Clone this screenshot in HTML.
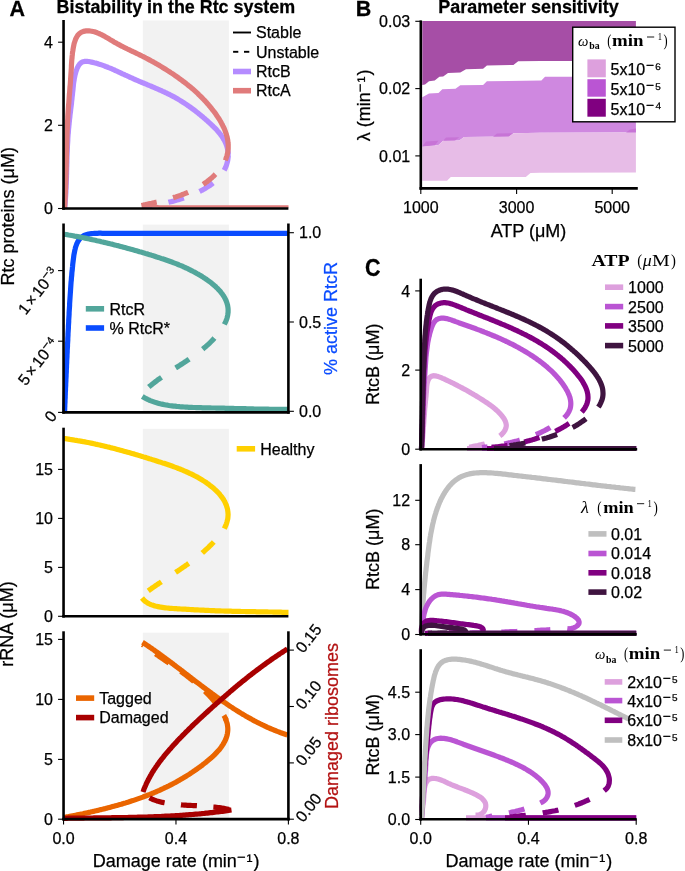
<!DOCTYPE html><html><head><meta charset="utf-8"><style>html,body{margin:0;padding:0;background:#fff;}svg{display:block;will-change:transform;}</style></head><body>
<svg width="685" height="871" viewBox="0 0 685 871">
<rect width="685" height="871" fill="#fff"/>
<text x="0" y="0" font-size="21.5" font-weight="bold" text-anchor="start" fill="#000" stroke="#000" stroke-width="0.25" font-family="'Liberation Sans', sans-serif" transform="translate(9.5,15.8) scale(1,1.04)">A</text>
<text x="0" y="0" font-size="17.9" font-weight="bold" text-anchor="middle" fill="#000" stroke="#000" stroke-width="0.25" font-family="'Liberation Sans', sans-serif" transform="translate(175.9,13.4) scale(1,1.04)">Bistability in the Rtc system</text>
<rect x="142.8" y="20.5" width="86.1" height="188" fill="#f2f2f2" />
<path d="M228.3,155.0 228.2,156.7 228.0,158.3 227.8,159.9 227.5,161.4 227.1,162.9 226.7,164.4 226.2,165.8 225.7,167.2 225.1,168.5 224.4,169.9 223.7,171.1 223.0,172.4 222.2,173.6 221.3,174.8 220.4,175.9 219.5,177.0 218.5,178.1 217.5,179.2 216.4,180.2 215.3,181.2 214.2,182.2 213.0,183.1 211.9,184.0 210.6,184.9 209.4,185.8 208.1,186.6 206.8,187.4 205.5,188.2 204.2,189.0 202.8,189.8 201.4,190.5 200.1,191.2 198.7,191.9 197.3,192.5 195.8,193.2 194.4,193.8 193.0,194.4 191.6,195.0 190.1,195.6 188.7,196.2 187.2,196.7 185.7,197.3 184.3,197.8 182.8,198.3 181.3,198.8 179.9,199.2 178.4,199.7 176.9,200.1 175.4,200.6 173.9,201.0 172.4,201.4 170.9,201.7 169.4,202.1 167.9,202.5 166.4,202.8 164.9,203.1 163.4,203.5 161.9,203.8 160.4,204.1 158.9,204.3 157.4,204.6 155.9,204.9 154.4,205.1 152.9,205.3 151.4,205.6 149.9,205.8 148.4,206.0 146.9,206.2 145.5,206.4 144.0,206.5 142.5,206.7" fill="none" stroke="#b58cff" stroke-width="5.2" stroke-linecap="butt" stroke-linejoin="round" stroke-dasharray="16 17" stroke-dashoffset="0"/>
<path d="M64.7,208.5 64.8,207.0 65.0,205.5 65.1,204.0 65.2,202.5 65.3,201.0 65.4,199.5 65.5,198.0 65.6,196.5 65.7,195.0 65.8,193.5 65.9,192.0 65.9,190.5 66.0,189.0 66.1,187.5 66.1,186.0 66.2,184.4 66.3,182.9 66.3,181.4 66.4,179.9 66.4,178.4 66.5,176.9 66.5,175.4 66.6,173.8 66.6,172.3 66.6,170.8 66.7,169.3 66.7,167.8 66.8,166.3 66.8,164.7 66.9,163.2 66.9,161.7 66.9,160.2 67.0,158.7 67.0,157.2 67.1,155.6 67.1,154.1 67.2,152.6 67.3,151.1 67.3,149.6 67.4,148.1 67.4,146.6 67.5,145.1 67.6,143.6 67.7,142.1 67.8,140.5 67.8,139.0 67.9,137.5 68.0,136.0 68.1,134.5 68.3,133.1 68.4,131.6 68.5,130.1 68.6,128.6 68.8,127.1 68.9,125.6 69.1,124.1 69.2,122.6 69.4,121.1 69.5,119.7 69.7,118.2 69.9,116.7 70.0,115.2 70.2,113.7 70.4,112.2 70.6,110.7 70.7,109.3 70.9,107.8 71.1,106.3 71.3,104.8 71.5,103.3 71.6,101.7 71.8,100.2 72.0,98.7 72.1,97.2 72.3,95.7 72.5,94.1 72.6,92.6 72.8,91.1 73.0,89.5 73.1,88.0 73.3,86.4 73.4,84.9 73.6,83.3 73.8,81.8 74.1,80.2 74.3,78.7 74.6,77.2 74.9,75.7 75.3,74.2 75.7,72.7 76.1,71.2 76.6,69.8 77.1,68.4 77.8,67.0 78.4,65.8 79.2,64.7 80.0,63.7 81.0,62.8 82.0,62.2 83.2,61.7 84.4,61.4 85.7,61.3 87.1,61.4 88.5,61.5 89.9,61.8 91.4,62.1 92.9,62.4 94.3,62.8 95.8,63.1 97.2,63.5 98.6,64.0 100.1,64.4 101.5,64.9 102.9,65.4 104.3,65.9 105.7,66.5 107.2,67.0 108.6,67.6 110.0,68.1 111.4,68.7 112.8,69.3 114.2,69.9 115.5,70.6 116.9,71.2 118.3,71.8 119.7,72.5 121.1,73.1 122.5,73.8 123.9,74.4 125.3,75.1 126.7,75.7 128.1,76.3 129.4,77.0 130.8,77.6 132.2,78.2 133.6,78.9 135.0,79.5 136.4,80.1 137.8,80.7 139.2,81.3 140.6,81.9 142.0,82.5 143.4,83.0 144.8,83.6 146.2,84.2 147.6,84.8 149.0,85.4 150.3,85.9 151.7,86.5 153.1,87.1 154.5,87.7 155.9,88.3 157.3,88.9 158.6,89.5 160.0,90.1 161.4,90.7 162.7,91.3 164.1,91.9 165.5,92.6 166.8,93.2 168.1,93.9 169.5,94.5 170.8,95.2 172.1,95.9 173.5,96.6 174.8,97.3 176.1,98.1 177.4,98.8 178.7,99.6 180.0,100.4 181.3,101.2 182.5,102.0 183.8,102.8 185.1,103.6 186.3,104.4 187.6,105.3 188.8,106.2 190.0,107.0 191.3,107.9 192.5,108.8 193.7,109.7 194.9,110.6 196.1,111.6 197.3,112.5 198.5,113.4 199.7,114.4 200.8,115.4 202.0,116.3 203.2,117.3 204.3,118.3 205.5,119.3 206.6,120.3 207.8,121.3 208.9,122.4 210.0,123.4 211.1,124.4 212.2,125.5 213.3,126.5 214.4,127.6 215.5,128.7 216.5,129.7 217.5,130.9 218.5,132.0 219.4,133.1 220.4,134.3 221.2,135.5 222.1,136.7 222.9,137.9 223.6,139.2 224.4,140.4 225.0,141.7 225.6,143.1 226.2,144.5 226.7,145.9 227.1,147.3 227.5,148.8 227.8,150.3 228.0,151.8 228.2,153.4 228.3,155.0" fill="none" stroke="#b58cff" stroke-width="5.2" stroke-linecap="butt" stroke-linejoin="round"/>
<path d="M225.3,160.4 224.6,161.8 223.8,163.2 223.0,164.5 222.1,165.9 221.2,167.1 220.3,168.4 219.4,169.6 218.5,170.8 217.5,172.0 216.5,173.1 215.4,174.2 214.4,175.3 213.3,176.4 212.2,177.4 211.0,178.4 209.9,179.4 208.7,180.3 207.5,181.3 206.3,182.2 205.1,183.0 203.8,183.9 202.6,184.7 201.3,185.5 200.0,186.3 198.6,187.1 197.3,187.8 196.0,188.6 194.6,189.3 193.2,190.0 191.8,190.6 190.4,191.3 189.0,191.9 187.6,192.5 186.1,193.1 184.7,193.7 183.2,194.3 181.8,194.8 180.3,195.4 178.8,195.9 177.3,196.4 175.8,196.9 174.3,197.3 172.8,197.8 171.3,198.3 169.8,198.7 168.3,199.1 166.8,199.6 165.3,200.0 163.8,200.4 162.3,200.8 160.7,201.1 159.2,201.5 157.7,201.9 156.2,202.2 154.7,202.6 153.2,202.9 151.7,203.3 150.2,203.6 148.7,203.9 147.2,204.2 145.8,204.6 144.3,204.9 142.9,205.2 141.4,205.5" fill="none" stroke="#e07b7b" stroke-width="5.2" stroke-linecap="butt" stroke-linejoin="round" stroke-dasharray="16 17" stroke-dashoffset="16"/>
<path d="M64.5,208.5 64.6,207.0 64.7,205.5 64.8,204.0 64.9,202.5 64.9,201.0 65.0,199.5 65.1,198.0 65.2,196.5 65.2,195.0 65.3,193.5 65.4,192.0 65.4,190.5 65.5,189.0 65.6,187.5 65.6,185.9 65.7,184.4 65.7,182.9 65.8,181.4 65.8,179.9 65.9,178.4 65.9,176.9 65.9,175.4 66.0,173.9 66.0,172.4 66.1,170.9 66.1,169.4 66.1,167.9 66.2,166.4 66.2,164.9 66.2,163.3 66.3,161.8 66.3,160.3 66.4,158.8 66.4,157.3 66.4,155.8 66.5,154.3 66.5,152.8 66.5,151.3 66.6,149.8 66.6,148.3 66.7,146.8 66.7,145.3 66.7,143.8 66.8,142.3 66.8,140.7 66.9,139.2 66.9,137.7 67.0,136.2 67.0,134.7 67.1,133.2 67.1,131.7 67.2,130.2 67.3,128.7 67.3,127.2 67.4,125.7 67.5,124.2 67.5,122.7 67.6,121.2 67.7,119.7 67.8,118.2 67.8,116.7 67.9,115.2 68.0,113.7 68.1,112.2 68.2,110.7 68.3,109.2 68.4,107.7 68.5,106.2 68.6,104.7 68.8,103.2 68.9,101.7 69.0,100.2 69.1,98.7 69.2,97.2 69.3,95.7 69.4,94.2 69.6,92.7 69.7,91.2 69.8,89.7 69.9,88.2 70.0,86.7 70.2,85.2 70.3,83.7 70.4,82.2 70.5,80.7 70.6,79.2 70.7,77.7 70.8,76.2 70.9,74.7 71.0,73.2 71.1,71.7 71.2,70.1 71.3,68.6 71.4,67.1 71.4,65.6 71.5,64.1 71.6,62.6 71.7,61.1 71.8,59.6 72.0,58.1 72.1,56.5 72.3,55.0 72.4,53.5 72.6,51.9 72.9,50.4 73.1,48.9 73.4,47.3 73.7,45.8 74.0,44.2 74.4,42.7 74.9,41.2 75.4,39.8 75.9,38.5 76.6,37.2 77.3,36.0 78.1,34.9 79.0,34.0 80.0,33.1 81.1,32.4 82.3,31.9 83.5,31.4 84.8,31.1 86.1,30.9 87.5,30.8 88.8,30.8 90.2,31.0 91.6,31.2 93.0,31.5 94.4,31.8 95.8,32.3 97.2,32.8 98.6,33.4 100.0,34.0 101.4,34.7 102.8,35.4 104.2,36.1 105.6,36.9 107.0,37.7 108.4,38.5 109.8,39.4 111.2,40.2 112.6,41.0 113.9,41.9 115.3,42.7 116.7,43.4 118.0,44.2 119.4,44.9 120.7,45.6 122.1,46.3 123.4,47.0 124.7,47.7 126.1,48.3 127.4,49.0 128.7,49.6 130.0,50.2 131.3,50.9 132.7,51.5 134.0,52.1 135.3,52.7 136.6,53.4 137.9,54.0 139.2,54.6 140.6,55.3 141.9,56.0 143.2,56.6 144.5,57.3 145.8,58.0 147.2,58.7 148.5,59.4 149.8,60.1 151.1,60.8 152.5,61.5 153.8,62.3 155.1,63.0 156.4,63.8 157.7,64.5 159.1,65.3 160.4,66.1 161.7,66.9 163.0,67.7 164.3,68.5 165.6,69.3 166.9,70.1 168.1,70.9 169.4,71.7 170.7,72.6 172.0,73.4 173.2,74.2 174.5,75.1 175.7,76.0 177.0,76.8 178.2,77.7 179.4,78.6 180.7,79.5 181.9,80.4 183.1,81.3 184.3,82.2 185.5,83.1 186.6,84.0 187.8,84.9 189.0,85.9 190.1,86.8 191.3,87.8 192.4,88.7 193.5,89.7 194.6,90.7 195.7,91.7 196.8,92.7 197.9,93.7 199.0,94.8 200.1,95.8 201.1,96.8 202.2,97.9 203.2,99.0 204.3,100.1 205.3,101.1 206.3,102.3 207.3,103.4 208.3,104.5 209.2,105.7 210.2,106.8 211.2,108.0 212.1,109.2 213.0,110.4 214.0,111.6 214.9,112.8 215.8,114.1 216.7,115.4 217.5,116.6 218.4,117.9 219.2,119.2 220.0,120.5 220.8,121.8 221.5,123.2 222.2,124.5 222.9,125.9 223.6,127.2 224.2,128.6 224.8,130.0 225.3,131.4 225.8,132.8 226.3,134.2 226.7,135.6 227.1,137.0 227.4,138.5 227.7,139.9 227.9,141.3 228.0,142.8 228.2,144.2 228.2,145.7 228.2,147.2 228.2,148.6 228.0,150.1 227.9,151.6 227.6,153.0 227.3,154.5 226.9,156.0 226.4,157.4 225.9,158.9 225.3,160.4" fill="none" stroke="#e07b7b" stroke-width="5.2" stroke-linecap="butt" stroke-linejoin="round"/>
<path d="M142.5,206.2 144.0,206.2 145.5,206.2 147.1,206.2 148.6,206.3 150.1,206.3 151.6,206.3 153.1,206.3 154.7,206.3 156.2,206.3 157.7,206.3 159.2,206.4 160.7,206.4 162.3,206.4 163.8,206.4 165.3,206.4 166.8,206.4 168.4,206.4 169.9,206.4 171.4,206.4 172.9,206.4 174.4,206.4 176.0,206.4 177.5,206.5 179.0,206.5 180.5,206.5 182.0,206.5 183.6,206.5 185.1,206.5 186.6,206.5 188.1,206.5 189.6,206.5 191.2,206.5 192.7,206.5 194.2,206.5 195.7,206.5 197.2,206.5 198.8,206.5 200.3,206.5 201.8,206.5 203.3,206.5 204.9,206.5 206.4,206.5 207.9,206.5 209.4,206.5 210.9,206.5 212.5,206.5 214.0,206.5 215.5,206.5 217.0,206.5 218.5,206.5 220.1,206.5 221.6,206.5 223.1,206.5 224.6,206.5 226.1,206.5 227.7,206.5 229.2,206.5 230.7,206.5 232.2,206.5 233.7,206.5 235.3,206.5 236.8,206.5 238.3,206.5 239.8,206.5 241.4,206.5 242.9,206.5 244.4,206.5 245.9,206.5 247.4,206.5 249.0,206.5 250.5,206.5 252.0,206.5 253.5,206.5 255.0,206.5 256.6,206.6 258.1,206.6 259.6,206.6 261.1,206.6 262.6,206.6 264.2,206.6 265.7,206.6 267.2,206.6 268.7,206.6 270.2,206.6 271.8,206.6 273.3,206.6 274.8,206.6 276.3,206.6 277.9,206.6 279.4,206.6 280.9,206.6 282.4,206.6 283.9,206.6 285.5,206.6 287.0,206.6 288.5,206.6" fill="none" stroke="#e07b7b" stroke-width="2.5" stroke-linecap="butt" stroke-linejoin="round"/>
<line x1="63.55" y1="20" x2="63.55" y2="209.8" stroke="#000" stroke-width="2.6" stroke-linecap="butt"/>
<line x1="62.25" y1="208.5" x2="288.4" y2="208.5" stroke="#000" stroke-width="2.6" stroke-linecap="butt"/>
<line x1="58.05" y1="208.5" x2="63.55" y2="208.5" stroke="#000" stroke-width="1.1" stroke-linecap="butt"/>
<text x="52.95" y="214.26" font-size="16" text-anchor="end" fill="#000" stroke="#000" stroke-width="0.25" font-weight="normal" font-family="'Liberation Sans', sans-serif" >0</text>
<line x1="58.05" y1="125.3" x2="63.55" y2="125.3" stroke="#000" stroke-width="1.1" stroke-linecap="butt"/>
<text x="52.95" y="131.06" font-size="16" text-anchor="end" fill="#000" stroke="#000" stroke-width="0.25" font-weight="normal" font-family="'Liberation Sans', sans-serif" >2</text>
<line x1="58.05" y1="42.2" x2="63.55" y2="42.2" stroke="#000" stroke-width="1.1" stroke-linecap="butt"/>
<text x="52.95" y="47.96" font-size="16" text-anchor="end" fill="#000" stroke="#000" stroke-width="0.25" font-weight="normal" font-family="'Liberation Sans', sans-serif" >4</text>
<line x1="233" y1="32.5" x2="251" y2="32.5" stroke="#000" stroke-width="1.9" stroke-linecap="butt"/>
<line x1="233.1" y1="51.8" x2="238.3" y2="51.8" stroke="#000" stroke-width="1.9" stroke-linecap="butt"/>
<line x1="244" y1="51.8" x2="249.3" y2="51.8" stroke="#000" stroke-width="1.9" stroke-linecap="butt"/>
<line x1="233" y1="71.5" x2="251" y2="71.5" stroke="#b58cff" stroke-width="5.6" stroke-linecap="butt"/>
<line x1="233" y1="90.7" x2="251" y2="90.7" stroke="#e07b7b" stroke-width="5.6" stroke-linecap="butt"/>
<text x="256" y="38.3" font-size="16" text-anchor="start" fill="#000" stroke="#000" stroke-width="0.25" font-weight="normal" font-family="'Liberation Sans', sans-serif" >Stable</text>
<text x="256" y="57.6" font-size="16" text-anchor="start" fill="#000" stroke="#000" stroke-width="0.25" font-weight="normal" font-family="'Liberation Sans', sans-serif" >Unstable</text>
<text x="256" y="76.8" font-size="16" text-anchor="start" fill="#000" stroke="#000" stroke-width="0.25" font-weight="normal" font-family="'Liberation Sans', sans-serif" >RtcB</text>
<text x="256" y="95.8" font-size="16" text-anchor="start" fill="#000" stroke="#000" stroke-width="0.25" font-weight="normal" font-family="'Liberation Sans', sans-serif" >RtcA</text>
<text x="0" y="0" font-size="18" text-anchor="middle" fill="#000" stroke="#000" stroke-width="0.25" font-family="'Liberation Sans', sans-serif" transform="translate(13.5,216.3) rotate(-90)">Rtc proteins (μM)</text>
<rect x="142.8" y="224.6" width="86.1" height="187.8" fill="#f2f2f2" />
<path d="M64.6,411.0 64.7,409.5 64.7,408.0 64.8,406.5 64.8,405.0 64.9,403.5 65.0,402.0 65.0,400.5 65.1,399.0 65.2,397.5 65.2,396.0 65.3,394.5 65.3,393.0 65.4,391.5 65.5,390.0 65.5,388.5 65.6,387.0 65.7,385.5 65.7,384.0 65.8,382.5 65.9,380.9 65.9,379.4 66.0,377.9 66.1,376.4 66.1,374.9 66.2,373.4 66.3,371.8 66.3,370.3 66.4,368.8 66.5,367.3 66.5,365.8 66.6,364.2 66.7,362.7 66.7,361.2 66.8,359.7 66.9,358.2 67.0,356.6 67.0,355.1 67.1,353.6 67.2,352.1 67.2,350.6 67.3,349.0 67.4,347.5 67.5,346.0 67.5,344.5 67.6,343.0 67.7,341.5 67.8,339.9 67.8,338.4 67.9,336.9 68.0,335.4 68.0,333.9 68.1,332.4 68.2,330.9 68.3,329.4 68.4,327.9 68.4,326.4 68.5,324.9 68.6,323.4 68.7,321.9 68.7,320.4 68.8,318.9 68.9,317.4 69.0,315.9 69.1,314.4 69.1,312.9 69.2,311.4 69.3,309.9 69.4,308.4 69.5,307.0 69.6,305.5 69.6,304.0 69.7,302.5 69.8,301.0 69.9,299.6 70.0,298.1 70.1,296.6 70.2,295.1 70.3,293.6 70.4,292.1 70.5,290.7 70.6,289.2 70.7,287.7 70.8,286.2 70.9,284.7 71.0,283.2 71.1,281.7 71.3,280.1 71.4,278.6 71.5,277.1 71.7,275.6 71.8,274.0 71.9,272.5 72.1,270.9 72.3,269.4 72.4,267.8 72.6,266.2 72.7,264.6 72.9,263.0 73.1,261.4 73.3,259.8 73.5,258.2 73.7,256.6 73.9,255.0 74.2,253.4 74.5,251.9 74.8,250.3 75.2,248.8 75.5,247.4 76.0,246.0 76.5,244.6 77.0,243.3 77.6,242.1 78.3,240.9 79.0,239.8 79.8,238.8 80.6,237.9 81.5,237.1 82.6,236.4 83.7,235.7 84.8,235.2 86.0,234.8 87.3,234.4 88.7,234.1 90.1,233.8 91.5,233.6 93.0,233.5 94.5,233.4 96.0,233.3 97.5,233.3 99.1,233.2 100.7,233.2 102.2,233.3 103.8,233.3 105.4,233.3 106.9,233.3 108.5,233.3 110.1,233.3 111.6,233.3 113.2,233.3 114.7,233.3 116.3,233.3 117.8,233.3 119.4,233.3 120.9,233.3 122.5,233.3 124.0,233.3 125.5,233.3 127.1,233.3 128.6,233.3 130.1,233.4 131.6,233.4 133.2,233.4 134.7,233.4 136.2,233.4 137.7,233.4 139.2,233.4 140.7,233.4 142.3,233.4 143.8,233.4 145.3,233.4 146.8,233.4 148.3,233.4 149.8,233.4 151.3,233.4 152.8,233.4 154.3,233.4 155.8,233.4 157.3,233.4 158.8,233.4 160.3,233.4 161.8,233.4 163.3,233.4 164.8,233.4 166.3,233.4 167.8,233.4 169.3,233.4 170.8,233.4 172.3,233.4 173.8,233.4 175.3,233.4 176.8,233.4 178.3,233.4 179.8,233.4 181.3,233.4 182.7,233.4 184.2,233.4 185.7,233.4 187.2,233.4 188.7,233.4 190.2,233.4 191.7,233.4 193.2,233.4 194.7,233.4 196.3,233.4 197.8,233.4 199.3,233.4 200.8,233.4 202.3,233.4 203.8,233.4 205.3,233.4 206.8,233.4 208.3,233.4 209.8,233.4 211.3,233.4 212.9,233.4 214.4,233.4 215.9,233.4 217.4,233.4 218.9,233.4 220.4,233.4 222.0,233.4 223.5,233.4 225.0,233.4 226.5,233.4 228.0,233.4 229.6,233.4 231.1,233.4 232.6,233.4 234.1,233.4 235.6,233.4 237.1,233.4 238.7,233.4 240.2,233.4 241.7,233.4 243.2,233.4 244.7,233.4 246.3,233.4 247.8,233.4 249.3,233.4 250.8,233.4 252.3,233.4 253.9,233.4 255.4,233.4 256.9,233.4 258.4,233.4 259.9,233.4 261.4,233.4 262.9,233.4 264.4,233.4 266.0,233.4 267.5,233.4 269.0,233.4 270.5,233.4 272.0,233.4 273.5,233.4 275.0,233.4 276.5,233.4 278.0,233.4 279.5,233.4 281.0,233.4 282.5,233.4 284.0,233.4 285.5,233.4 287.0,233.4 288.5,233.4" fill="none" stroke="#0a4cff" stroke-width="5.2" stroke-linecap="butt" stroke-linejoin="round"/>
<path d="M64.2,234.2 65.7,234.5 67.2,234.7 68.7,235.0 70.1,235.2 71.6,235.5 73.1,235.8 74.6,236.1 76.1,236.3 77.6,236.6 79.1,236.9 80.6,237.2 82.0,237.5 83.5,237.8 85.0,238.1 86.5,238.4 88.0,238.7 89.5,239.0 90.9,239.4 92.4,239.7 93.9,240.0 95.4,240.3 96.9,240.7 98.4,241.0 99.8,241.3 101.3,241.7 102.8,242.0 104.3,242.4 105.8,242.7 107.2,243.1 108.7,243.4 110.2,243.8 111.7,244.1 113.1,244.5 114.6,244.9 116.1,245.3 117.6,245.6 119.0,246.0 120.5,246.4 122.0,246.8 123.4,247.2 124.9,247.6 126.4,248.0 127.8,248.4 129.3,248.8 130.8,249.2 132.2,249.6 133.7,250.0 135.1,250.4 136.6,250.8 138.0,251.2 139.5,251.7 141.0,252.1 142.4,252.5 143.9,252.9 145.3,253.4 146.8,253.8 148.2,254.3 149.6,254.7 151.1,255.1 152.5,255.6 154.0,256.0 155.4,256.5 156.8,257.0 158.3,257.4 159.7,257.9 161.1,258.4 162.5,258.8 164.0,259.3 165.4,259.8 166.8,260.3 168.2,260.8 169.6,261.3 171.1,261.8 172.5,262.3 173.9,262.9 175.3,263.4 176.7,263.9 178.1,264.5 179.5,265.1 180.9,265.6 182.3,266.2 183.6,266.8 185.0,267.5 186.4,268.1 187.8,268.7 189.1,269.4 190.5,270.1 191.9,270.8 193.2,271.5 194.6,272.2 195.9,272.9 197.3,273.7 198.6,274.4 200.0,275.2 201.3,276.0 202.6,276.9 203.9,277.7 205.3,278.6 206.6,279.5 207.8,280.4 209.1,281.3 210.4,282.3 211.6,283.2 212.8,284.2 214.0,285.2 215.2,286.2 216.3,287.3 217.4,288.3 218.4,289.4 219.4,290.5 220.4,291.6 221.3,292.8 222.2,293.9 223.0,295.1 223.8,296.3 224.5,297.5 225.2,298.8 225.8,300.0 226.3,301.3 226.8,302.6 227.2,303.9 227.6,305.3 227.8,306.6 228.0,308.0 228.1,309.4 228.1,310.8 228.1,312.2 227.9,313.7 227.7,315.2 227.4,316.7 227.0,318.2 226.5,319.7 225.8,321.3 225.1,322.8 224.3,324.4" fill="none" stroke="#52a69b" stroke-width="5.2" stroke-linecap="butt" stroke-linejoin="round"/>
<path d="M224.3,324.4 223.5,325.8 222.7,327.1 221.8,328.4 221.0,329.7 220.1,331.0 219.2,332.2 218.3,333.5 217.3,334.7 216.3,335.9 215.4,337.0 214.4,338.2 213.3,339.3 212.3,340.4 211.2,341.5 210.2,342.5 209.1,343.6 208.0,344.6 206.8,345.7 205.7,346.7 204.6,347.6 203.4,348.6 202.2,349.6 201.0,350.5 199.8,351.5 198.6,352.4 197.4,353.3 196.2,354.2 195.0,355.1 193.7,356.0 192.5,356.9 191.2,357.8 190.0,358.6 188.7,359.5 187.4,360.3 186.1,361.2 184.8,362.0 183.6,362.9 182.3,363.7 181.0,364.5 179.7,365.4 178.4,366.2 177.1,367.0 175.8,367.9 174.5,368.7 173.2,369.5 171.9,370.4 170.6,371.2 169.3,372.0 168.0,372.9 166.8,373.7 165.5,374.6 164.2,375.4 162.9,376.3 161.7,377.2 160.4,378.1 159.2,379.0 157.9,379.8 156.7,380.8 155.5,381.7 154.3,382.6 153.1,383.5 151.9,384.5 150.7,385.5 149.5,386.4 148.4,387.4 147.2,388.4 146.1,389.5 145.0,390.5" fill="none" stroke="#52a69b" stroke-width="5.2" stroke-linecap="butt" stroke-linejoin="round" stroke-dasharray="16 17" stroke-dashoffset="16"/>
<path d="M142.3,396.5 143.6,397.3 144.9,398.0 146.2,398.7 147.6,399.4 148.9,400.0 150.3,400.6 151.7,401.1 153.1,401.6 154.5,402.1 155.9,402.6 157.3,403.0 158.8,403.4 160.2,403.8 161.7,404.1 163.1,404.4 164.6,404.7 166.1,405.0 167.6,405.2 169.1,405.5 170.5,405.7 172.0,405.9 173.6,406.1 175.1,406.2 176.6,406.4 178.1,406.5 179.6,406.7 181.1,406.8 182.7,406.9 184.2,407.0 185.7,407.1 187.2,407.2 188.8,407.3 190.3,407.3 191.8,407.4 193.4,407.5 194.9,407.5 196.4,407.6 198.0,407.6 199.5,407.7 201.0,407.7 202.6,407.8 204.1,407.8 205.6,407.8 207.2,407.9 208.7,407.9 210.3,407.9 211.8,408.0 213.3,408.0 214.9,408.0 216.4,408.1 217.9,408.1 219.4,408.1 221.0,408.2 222.5,408.2 224.0,408.2 225.6,408.3 227.1,408.3 228.6,408.3 230.1,408.4 231.6,408.4 233.2,408.4 234.7,408.5 236.2,408.5 237.7,408.6 239.3,408.6 240.8,408.6 242.3,408.7 243.8,408.7 245.3,408.7 246.9,408.8 248.4,408.8 249.9,408.9 251.4,408.9 252.9,408.9 254.4,409.0 256.0,409.0 257.5,409.0 259.0,409.1 260.5,409.1 262.0,409.1 263.6,409.2 265.1,409.2 266.6,409.2 268.1,409.2 269.7,409.3 271.2,409.3 272.7,409.3 274.2,409.3 275.8,409.3 277.3,409.4 278.8,409.4 280.3,409.4 281.9,409.4 283.4,409.4 284.9,409.4 286.5,409.4 288.0,409.4" fill="none" stroke="#52a69b" stroke-width="5.2" stroke-linecap="butt" stroke-linejoin="round"/>
<line x1="63.55" y1="223.5" x2="63.55" y2="413.7" stroke="#000" stroke-width="2.6" stroke-linecap="butt"/>
<line x1="62.25" y1="412.4" x2="289.7" y2="412.4" stroke="#000" stroke-width="2.6" stroke-linecap="butt"/>
<line x1="288.4" y1="223.5" x2="288.4" y2="413.7" stroke="#000" stroke-width="2.6" stroke-linecap="butt"/>
<line x1="58.05" y1="412.4" x2="63.55" y2="412.4" stroke="#000" stroke-width="1.1" stroke-linecap="butt"/>
<text x="0" y="0" font-size="16" text-anchor="end" stroke="#000" stroke-width="0.25" font-family="'Liberation Sans', sans-serif" transform="translate(57.8,416.2) rotate(-52)">0</text>
<line x1="58.05" y1="341.2" x2="63.55" y2="341.2" stroke="#000" stroke-width="1.1" stroke-linecap="butt"/>
<text x="0" y="0" font-size="16" text-anchor="end" stroke="#000" stroke-width="0.25" font-family="'Liberation Sans', sans-serif" transform="translate(59,343.7) rotate(-52)">5<tspan dx="2.2">×</tspan><tspan dx="2.2">10</tspan><tspan dy="-5.2" font-size="13.5">−</tspan><tspan font-size="10.5">4</tspan></text>
<line x1="58.05" y1="270.6" x2="63.55" y2="270.6" stroke="#000" stroke-width="1.1" stroke-linecap="butt"/>
<text x="0" y="0" font-size="16" text-anchor="end" stroke="#000" stroke-width="0.25" font-family="'Liberation Sans', sans-serif" transform="translate(59,273.1) rotate(-52)">1<tspan dx="2.2">×</tspan><tspan dx="2.2">10</tspan><tspan dy="-5.2" font-size="13.5">−</tspan><tspan font-size="10.5">3</tspan></text>
<line x1="288.4" y1="411.3" x2="293.9" y2="411.3" stroke="#000" stroke-width="1.1" stroke-linecap="butt"/>
<text x="299" y="417.06" font-size="16" text-anchor="start" fill="#000" stroke="#000" stroke-width="0.25" font-weight="normal" font-family="'Liberation Sans', sans-serif" >0.0</text>
<line x1="288.4" y1="322" x2="293.9" y2="322" stroke="#000" stroke-width="1.1" stroke-linecap="butt"/>
<text x="299" y="327.76" font-size="16" text-anchor="start" fill="#000" stroke="#000" stroke-width="0.25" font-weight="normal" font-family="'Liberation Sans', sans-serif" >0.5</text>
<line x1="288.4" y1="232.7" x2="293.9" y2="232.7" stroke="#000" stroke-width="1.1" stroke-linecap="butt"/>
<text x="299" y="238.46" font-size="16" text-anchor="start" fill="#000" stroke="#000" stroke-width="0.25" font-weight="normal" font-family="'Liberation Sans', sans-serif" >1.0</text>
<text x="0" y="0" font-size="18" text-anchor="middle" fill="#0a4cff" stroke="#0a4cff" stroke-width="0.25" font-family="'Liberation Sans', sans-serif" transform="translate(336.5,318.5) rotate(-90)">% active RtcR</text>
<line x1="85.8" y1="308.8" x2="104.1" y2="308.8" stroke="#52a69b" stroke-width="5.6" stroke-linecap="butt"/>
<line x1="85.8" y1="328" x2="104.1" y2="328" stroke="#0a4cff" stroke-width="5.6" stroke-linecap="butt"/>
<text x="109.5" y="314.5" font-size="16" text-anchor="start" fill="#000" stroke="#000" stroke-width="0.25" font-weight="normal" font-family="'Liberation Sans', sans-serif" >RtcR</text>
<text x="109.5" y="333.5" font-size="16" text-anchor="start" fill="#000" stroke="#000" stroke-width="0.25" font-weight="normal" font-family="'Liberation Sans', sans-serif" >% RtcR*</text>
<rect x="142.8" y="428.8" width="86.1" height="187.5" fill="#f2f2f2" />
<path d="M63.8,438.5 65.3,438.7 66.8,438.9 68.4,439.1 69.9,439.4 71.4,439.6 72.9,439.8 74.4,440.1 75.9,440.3 77.4,440.6 78.9,440.8 80.4,441.1 81.9,441.4 83.4,441.7 84.9,441.9 86.4,442.2 87.9,442.5 89.4,442.8 90.9,443.1 92.4,443.4 93.9,443.7 95.3,444.1 96.8,444.4 98.3,444.7 99.8,445.0 101.2,445.4 102.7,445.7 104.2,446.1 105.7,446.4 107.1,446.8 108.6,447.1 110.1,447.5 111.5,447.9 113.0,448.2 114.4,448.6 115.9,449.0 117.4,449.4 118.8,449.8 120.3,450.2 121.7,450.6 123.2,451.0 124.7,451.4 126.1,451.8 127.6,452.2 129.0,452.6 130.5,453.0 131.9,453.4 133.4,453.8 134.8,454.3 136.3,454.7 137.7,455.1 139.2,455.6 140.7,456.0 142.1,456.4 143.6,456.9 145.0,457.3 146.5,457.8 147.9,458.2 149.4,458.7 150.8,459.1 152.3,459.6 153.7,460.1 155.2,460.5 156.7,461.0 158.1,461.5 159.6,461.9 161.0,462.4 162.5,462.9 164.0,463.3 165.4,463.8 166.9,464.3 168.3,464.8 169.8,465.3 171.2,465.8 172.7,466.3 174.1,466.9 175.6,467.4 177.0,467.9 178.4,468.5 179.9,469.0 181.3,469.6 182.7,470.2 184.1,470.8 185.5,471.4 186.9,472.0 188.3,472.6 189.7,473.3 191.1,473.9 192.5,474.6 193.8,475.3 195.2,476.0 196.5,476.7 197.9,477.4 199.2,478.2 200.5,479.0 201.8,479.8 203.1,480.6 204.4,481.4 205.7,482.2 206.9,483.1 208.2,484.0 209.4,484.9 210.6,485.9 211.8,486.8 213.0,487.8 214.2,488.8 215.3,489.8 216.4,490.9 217.4,491.9 218.5,493.0 219.5,494.1 220.4,495.3 221.3,496.4 222.2,497.6 223.0,498.8 223.8,500.0 224.5,501.2 225.1,502.5 225.7,503.8 226.3,505.1 226.7,506.4 227.1,507.7 227.5,509.1 227.7,510.5 227.9,511.9 228.0,513.3 228.1,514.7 228.0,516.2 227.9,517.7 227.7,519.2 227.3,520.7 226.9,522.2 226.4,523.8 225.8,525.4 225.1,527.0 224.3,528.6" fill="none" stroke="#ffd000" stroke-width="5.2" stroke-linecap="butt" stroke-linejoin="round"/>
<path d="M224.3,528.6 223.4,529.9 222.5,531.2 221.6,532.4 220.7,533.7 219.8,534.9 218.8,536.1 217.9,537.3 216.9,538.4 215.9,539.6 214.9,540.7 213.8,541.9 212.8,543.0 211.7,544.1 210.7,545.1 209.6,546.2 208.5,547.3 207.4,548.3 206.2,549.4 205.1,550.4 204.0,551.4 202.8,552.4 201.7,553.4 200.5,554.4 199.3,555.3 198.1,556.3 196.9,557.2 195.7,558.2 194.5,559.1 193.3,560.0 192.1,561.0 190.8,561.9 189.6,562.8 188.3,563.7 187.1,564.6 185.8,565.4 184.6,566.3 183.3,567.2 182.0,568.1 180.8,568.9 179.5,569.8 178.2,570.7 176.9,571.5 175.6,572.4 174.3,573.2 173.1,574.1 171.8,574.9 170.5,575.8 169.2,576.6 167.9,577.5 166.6,578.3 165.3,579.2 164.0,580.0 162.8,580.9 161.5,581.7 160.2,582.6 158.9,583.4 157.7,584.3 156.4,585.1 155.1,586.0 153.9,586.9 152.6,587.7 151.4,588.6 150.1,589.5 148.9,590.4 147.7,591.3 146.4,592.2 145.2,593.1 144.0,594.0" fill="none" stroke="#ffd000" stroke-width="5.2" stroke-linecap="butt" stroke-linejoin="round" stroke-dasharray="16 17" stroke-dashoffset="16"/>
<path d="M142.0,598.0 142.9,599.1 143.9,600.1 144.9,601.1 146.0,601.9 147.2,602.7 148.4,603.4 149.6,604.0 150.9,604.6 152.3,605.1 153.6,605.5 155.0,606.0 156.4,606.3 157.9,606.6 159.4,606.9 160.8,607.2 162.3,607.4 163.8,607.6 165.4,607.8 166.9,608.0 168.4,608.1 170.0,608.3 171.5,608.4 173.1,608.5 174.6,608.6 176.2,608.7 177.7,608.8 179.3,608.9 180.8,609.0 182.4,609.1 183.9,609.1 185.4,609.2 186.9,609.3 188.5,609.4 190.0,609.5 191.5,609.6 193.0,609.7 194.5,609.8 196.1,609.8 197.6,609.9 199.1,610.0 200.6,610.1 202.1,610.2 203.6,610.2 205.1,610.3 206.6,610.4 208.1,610.4 209.6,610.5 211.1,610.6 212.6,610.6 214.1,610.7 215.6,610.8 217.1,610.8 218.7,610.9 220.2,610.9 221.7,611.0 223.2,611.0 224.7,611.1 226.2,611.1 227.7,611.2 229.3,611.2 230.8,611.2 232.3,611.3 233.8,611.3 235.3,611.3 236.9,611.4 238.4,611.4 239.9,611.4 241.4,611.5 242.9,611.5 244.5,611.5 246.0,611.6 247.5,611.6 249.0,611.6 250.5,611.7 252.1,611.7 253.6,611.7 255.1,611.7 256.6,611.8 258.2,611.8 259.7,611.8 261.2,611.8 262.7,611.9 264.2,611.9 265.8,611.9 267.3,611.9 268.8,612.0 270.3,612.0 271.8,612.0 273.4,612.1 274.9,612.1 276.4,612.1 277.9,612.2 279.4,612.2 280.9,612.2 282.5,612.3 284.0,612.3 285.5,612.3 287.0,612.4 288.5,612.4" fill="none" stroke="#ffd000" stroke-width="5.2" stroke-linecap="butt" stroke-linejoin="round"/>
<line x1="63.55" y1="427.7" x2="63.55" y2="617.6" stroke="#000" stroke-width="2.6" stroke-linecap="butt"/>
<line x1="62.25" y1="616.3" x2="288.4" y2="616.3" stroke="#000" stroke-width="2.6" stroke-linecap="butt"/>
<line x1="58.05" y1="616.3" x2="63.55" y2="616.3" stroke="#000" stroke-width="1.1" stroke-linecap="butt"/>
<text x="52.95" y="622.06" font-size="16" text-anchor="end" fill="#000" stroke="#000" stroke-width="0.25" font-weight="normal" font-family="'Liberation Sans', sans-serif" >0</text>
<line x1="58.05" y1="567.4" x2="63.55" y2="567.4" stroke="#000" stroke-width="1.1" stroke-linecap="butt"/>
<text x="52.95" y="573.16" font-size="16" text-anchor="end" fill="#000" stroke="#000" stroke-width="0.25" font-weight="normal" font-family="'Liberation Sans', sans-serif" >5</text>
<line x1="58.05" y1="518.4" x2="63.55" y2="518.4" stroke="#000" stroke-width="1.1" stroke-linecap="butt"/>
<text x="52.95" y="524.16" font-size="16" text-anchor="end" fill="#000" stroke="#000" stroke-width="0.25" font-weight="normal" font-family="'Liberation Sans', sans-serif" >10</text>
<line x1="58.05" y1="469.4" x2="63.55" y2="469.4" stroke="#000" stroke-width="1.1" stroke-linecap="butt"/>
<text x="52.95" y="475.16" font-size="16" text-anchor="end" fill="#000" stroke="#000" stroke-width="0.25" font-weight="normal" font-family="'Liberation Sans', sans-serif" >15</text>
<line x1="236.7" y1="448.8" x2="255.1" y2="448.8" stroke="#ffd000" stroke-width="5.6" stroke-linecap="butt"/>
<text x="260.2" y="454.9" font-size="16" text-anchor="start" fill="#000" stroke="#000" stroke-width="0.25" font-weight="normal" font-family="'Liberation Sans', sans-serif" >Healthy</text>
<text x="0" y="0" font-size="18" text-anchor="middle" fill="#000" stroke="#000" stroke-width="0.25" font-family="'Liberation Sans', sans-serif" transform="translate(13,624) rotate(-90)">rRNA (μM)</text>
<rect x="142.8" y="632.7" width="86.1" height="186.4" fill="#f2f2f2" />
<path d="M63.8,817.5 65.3,817.2 66.8,816.9 68.2,816.7 69.7,816.4 71.2,816.1 72.7,815.8 74.1,815.5 75.6,815.2 77.1,814.9 78.6,814.6 80.1,814.3 81.5,814.0 83.0,813.7 84.5,813.3 86.0,813.0 87.5,812.7 88.9,812.4 90.4,812.1 91.9,811.7 93.4,811.4 94.9,811.0 96.3,810.7 97.8,810.4 99.3,810.0 100.8,809.6 102.2,809.3 103.7,808.9 105.2,808.6 106.6,808.2 108.1,807.8 109.6,807.4 111.1,807.0 112.5,806.6 114.0,806.2 115.4,805.8 116.9,805.4 118.4,805.0 119.8,804.6 121.3,804.2 122.7,803.7 124.2,803.3 125.6,802.9 127.1,802.4 128.5,802.0 130.0,801.5 131.4,801.0 132.8,800.6 134.3,800.1 135.7,799.6 137.1,799.1 138.5,798.6 140.0,798.1 141.4,797.6 142.8,797.1 144.2,796.5 145.6,796.0 147.0,795.5 148.4,794.9 149.8,794.4 151.2,793.8 152.6,793.2 154.0,792.7 155.4,792.1 156.8,791.5 158.1,790.9 159.5,790.3 160.9,789.6 162.3,789.0 163.6,788.4 165.0,787.7 166.3,787.1 167.7,786.4 169.0,785.8 170.3,785.1 171.7,784.4 173.0,783.7 174.3,783.0 175.7,782.3 177.0,781.6 178.3,780.8 179.6,780.1 180.9,779.3 182.2,778.6 183.5,777.8 184.8,777.0 186.1,776.2 187.4,775.4 188.7,774.6 189.9,773.8 191.2,772.9 192.5,772.1 193.8,771.2 195.0,770.4 196.3,769.5 197.5,768.6 198.8,767.7 200.0,766.8 201.3,765.9 202.5,764.9 203.7,764.0 205.0,763.0 206.2,762.1 207.4,761.1 208.6,760.1 209.8,759.1 211.0,758.1 212.1,757.0 213.3,756.0 214.4,754.9 215.4,753.8 216.5,752.7 217.5,751.6 218.5,750.5 219.5,749.4 220.4,748.2 221.3,747.0 222.1,745.8 222.9,744.6 223.6,743.4 224.3,742.1 225.0,740.9 225.6,739.6 226.1,738.3 226.6,736.9 227.0,735.6 227.3,734.2 227.5,732.8 227.7,731.4 227.8,730.0 227.8,728.6 227.7,727.1 227.5,725.7 227.3,724.2 226.9,722.7 226.4,721.2 225.8,719.6 225.1,718.1" fill="none" stroke="#ea6500" stroke-width="5.2" stroke-linecap="butt" stroke-linejoin="round"/>
<path d="M142.5,642.3 143.8,643.1 145.0,644.0 146.3,644.8 147.5,645.6 148.8,646.5 150.0,647.3 151.3,648.2 152.5,649.1 153.8,649.9 155.0,650.8 156.2,651.7 157.5,652.5 158.7,653.4 159.9,654.3 161.1,655.2 162.4,656.1 163.6,657.0 164.8,657.9 166.0,658.8 167.2,659.7 168.5,660.6 169.7,661.5 170.9,662.4 172.1,663.3 173.3,664.2 174.5,665.2 175.7,666.1 176.9,667.0 178.1,667.9 179.4,668.8 180.6,669.8 181.8,670.7 183.0,671.6 184.2,672.5 185.4,673.5 186.6,674.4 187.8,675.3 189.0,676.2 190.2,677.2 191.4,678.1 192.6,679.0 193.8,679.9 195.0,680.9 196.2,681.8 197.4,682.7 198.7,683.6 199.9,684.5 201.1,685.5 202.3,686.4 203.5,687.3 204.7,688.2 205.9,689.1 207.1,690.0 208.4,690.9 209.6,691.8 210.8,692.7 212.0,693.6 213.3,694.5 214.5,695.4 215.7,696.3 216.9,697.2 218.2,698.0 219.4,698.9 220.6,699.8 221.9,700.7 223.1,701.5 224.4,702.4 225.6,703.2 226.9,704.1 228.1,704.9 229.4,705.8 230.6,706.6 231.9,707.4 233.2,708.3 234.4,709.1 235.7,709.9 237.0,710.7 238.3,711.5 239.5,712.3 240.8,713.1 242.1,713.9 243.4,714.6 244.7,715.4 246.0,716.2 247.3,716.9 248.6,717.7 250.0,718.4 251.3,719.1 252.6,719.9 253.9,720.6 255.3,721.3 256.6,722.0 257.9,722.7 259.3,723.3 260.6,724.0 262.0,724.7 263.4,725.3 264.7,726.0 266.1,726.6 267.5,727.3 268.9,727.9 270.3,728.5 271.7,729.1 273.1,729.7 274.5,730.3 275.9,730.8 277.3,731.4 278.7,731.9 280.2,732.5 281.6,733.0 283.0,733.5 284.5,734.0 285.9,734.5 287.4,735.0" fill="none" stroke="#ea6500" stroke-width="5.2" stroke-linecap="butt" stroke-linejoin="round"/>
<path d="M226.5,720.5 225.8,719.1 225.1,717.7 224.4,716.3 223.6,715.0 222.9,713.7 222.1,712.4 221.3,711.1 220.5,709.8 219.6,708.5 218.7,707.3 217.9,706.0 217.0,704.8 216.0,703.6 215.1,702.4 214.2,701.3 213.2,700.1 212.2,698.9 211.2,697.8 210.2,696.7 209.2,695.6 208.1,694.5 207.1,693.4 206.0,692.3 204.9,691.2 203.8,690.2 202.7,689.2 201.6,688.1 200.5,687.1 199.3,686.1 198.2,685.1 197.0,684.1 195.9,683.1 194.7,682.1 193.5,681.1 192.3,680.2 191.1,679.2 189.9,678.3 188.7,677.3 187.5,676.4 186.3,675.5 185.0,674.5 183.8,673.6 182.6,672.7 181.3,671.8 180.1,670.9 178.8,670.0 177.6,669.1 176.3,668.2 175.1,667.3 173.8,666.4 172.5,665.5 171.3,664.7 170.0,663.8 168.7,662.9 167.5,662.0 166.2,661.2 164.9,660.3 163.6,659.4 162.4,658.5 161.1,657.7 159.8,656.8 158.6,655.9 157.3,655.1 156.1,654.2 154.8,653.3 153.6,652.4 152.3,651.6 151.1,650.7 149.8,649.8 148.6,648.9 147.4,648.1 146.1,647.2 144.9,646.3 143.7,645.4 142.5,644.5" fill="none" stroke="#ea6500" stroke-width="5.2" stroke-linecap="butt" stroke-linejoin="round" stroke-dasharray="16.5 14.5" stroke-dashoffset="10.8"/>
<path d="M63.8,818.3 65.3,818.3 66.8,818.3 68.3,818.2 69.8,818.2 71.4,818.2 72.9,818.2 74.4,818.2 75.9,818.1 77.4,818.1 78.9,818.1 80.4,818.1 82.0,818.1 83.5,818.1 85.0,818.0 86.5,818.0 88.0,818.0 89.5,818.0 91.0,818.0 92.6,818.0 94.1,817.9 95.6,817.9 97.1,817.9 98.6,817.9 100.1,817.9 101.6,817.9 103.2,817.8 104.7,817.8 106.2,817.8 107.7,817.8 109.2,817.8 110.7,817.8 112.2,817.7 113.8,817.7 115.3,817.7 116.8,817.7 118.3,817.6 119.8,817.6 121.3,817.6 122.8,817.6 124.4,817.5 125.9,817.5 127.4,817.5 128.9,817.4 130.4,817.4 131.9,817.4 133.4,817.3 135.0,817.3 136.5,817.3 138.0,817.2 139.5,817.2 141.0,817.2 142.5,817.1 144.0,817.1 145.6,817.0 147.1,817.0 148.6,816.9 150.1,816.9 151.6,816.8 153.1,816.8 154.6,816.7 156.2,816.6 157.7,816.6 159.2,816.5 160.7,816.5 162.2,816.4 163.7,816.3 165.2,816.2 166.7,816.2 168.3,816.1 169.8,816.0 171.3,815.9 172.8,815.8 174.3,815.8 175.8,815.7 177.3,815.6 178.8,815.5 180.3,815.4 181.8,815.3 183.4,815.2 184.9,815.1 186.4,814.9 187.9,814.8 189.4,814.7 190.9,814.6 192.4,814.5 193.9,814.3 195.4,814.2 196.9,814.1 198.4,814.0 199.9,813.8 201.5,813.7 203.0,813.5 204.5,813.4 206.0,813.2 207.5,813.1 209.0,812.9 210.5,812.7 212.0,812.6 213.5,812.4 215.0,812.2 216.5,812.0 218.0,811.9 219.5,811.7 221.0,811.5 222.5,811.3 224.0,811.1 225.5,810.9 227.0,810.7 228.5,810.4 230.0,810.2 231.5,810.0" fill="none" stroke="#a80000" stroke-width="5.2" stroke-linecap="butt" stroke-linejoin="round"/>
<path d="M231.5,810.0 230.0,809.6 228.5,809.3 227.0,809.0 225.5,808.7 223.9,808.4 222.4,808.2 220.9,807.9 219.4,807.7 217.9,807.5 216.4,807.3 214.9,807.1 213.3,807.0 211.8,806.8 210.3,806.7 208.8,806.5 207.3,806.4 205.7,806.3 204.2,806.2 202.7,806.1 201.2,806.0 199.6,805.9 198.1,805.8 196.6,805.7 195.0,805.7 193.5,805.6 192.0,805.5 190.4,805.4 188.9,805.3 187.3,805.3 185.8,805.2 184.2,805.1 182.7,805.0 181.1,804.9 179.6,804.7 178.0,804.6 176.4,804.5 174.9,804.3 173.3,804.1 171.8,804.0 170.2,803.8 168.7,803.5 167.2,803.3 165.7,803.0 164.1,802.7 162.6,802.4 161.1,802.1 159.7,801.7 158.2,801.3 156.8,800.9 155.3,800.4 153.9,799.9 152.6,799.3 151.2,798.7 149.9,797.9 148.7,797.2 147.5,796.3 146.3,795.4 145.2,794.3 144.2,793.2 143.2,792.0" fill="none" stroke="#a80000" stroke-width="5.2" stroke-linecap="butt" stroke-linejoin="round" stroke-dasharray="16 16.5" stroke-dashoffset="30.1"/>
<path d="M143.0,792.0 143.5,790.6 144.0,789.1 144.6,787.7 145.2,786.3 145.8,785.0 146.4,783.6 147.0,782.2 147.7,780.9 148.4,779.6 149.1,778.2 149.8,776.9 150.5,775.6 151.3,774.3 152.0,773.0 152.8,771.7 153.6,770.5 154.4,769.2 155.3,768.0 156.1,766.7 157.0,765.5 157.8,764.3 158.7,763.1 159.6,761.8 160.5,760.6 161.4,759.5 162.3,758.3 163.3,757.1 164.2,755.9 165.2,754.7 166.1,753.6 167.1,752.4 168.1,751.3 169.1,750.1 170.1,749.0 171.1,747.9 172.1,746.7 173.1,745.6 174.1,744.5 175.1,743.4 176.2,742.3 177.2,741.1 178.2,740.0 179.3,738.9 180.3,737.8 181.4,736.8 182.4,735.7 183.5,734.6 184.6,733.5 185.6,732.4 186.7,731.3 187.8,730.3 188.9,729.2 190.0,728.1 191.1,727.1 192.1,726.0 193.2,725.0 194.3,723.9 195.4,722.9 196.5,721.8 197.6,720.8 198.8,719.7 199.9,718.7 201.0,717.7 202.1,716.6 203.2,715.6 204.3,714.6 205.4,713.5 206.6,712.5 207.7,711.5 208.8,710.5 209.9,709.4 211.1,708.4 212.2,707.4 213.3,706.4 214.4,705.4 215.6,704.4 216.7,703.4 217.8,702.4 219.0,701.4 220.1,700.4 221.2,699.4 222.4,698.4 223.5,697.4 224.7,696.4 225.8,695.4 227.0,694.4 228.1,693.4 229.3,692.4 230.4,691.4 231.6,690.5 232.7,689.5 233.9,688.5 235.0,687.5 236.2,686.6 237.4,685.6 238.5,684.6 239.7,683.7 240.9,682.7 242.0,681.8 243.2,680.8 244.4,679.9 245.6,678.9 246.7,678.0 247.9,677.1 249.1,676.1 250.3,675.2 251.5,674.3 252.7,673.3 253.9,672.4 255.1,671.5 256.3,670.6 257.5,669.7 258.7,668.8 259.9,667.9 261.1,667.0 262.3,666.1 263.6,665.2 264.8,664.3 266.0,663.4 267.2,662.5 268.5,661.6 269.7,660.8 270.9,659.9 272.2,659.0 273.4,658.2 274.7,657.3 275.9,656.5 277.2,655.6 278.5,654.8 279.7,653.9 281.0,653.1 282.3,652.3 283.5,651.4 284.8,650.6 286.1,649.8 287.4,649.0" fill="none" stroke="#a80000" stroke-width="5.2" stroke-linecap="butt" stroke-linejoin="round"/>
<line x1="63.55" y1="631.3" x2="63.55" y2="820.4" stroke="#000" stroke-width="2.6" stroke-linecap="butt"/>
<line x1="62.25" y1="819.1" x2="289.7" y2="819.1" stroke="#000" stroke-width="2.6" stroke-linecap="butt"/>
<line x1="288.4" y1="631.3" x2="288.4" y2="820.4" stroke="#000" stroke-width="2.6" stroke-linecap="butt"/>
<line x1="58.05" y1="819.2" x2="63.55" y2="819.2" stroke="#000" stroke-width="1.1" stroke-linecap="butt"/>
<text x="52.95" y="824.96" font-size="16" text-anchor="end" fill="#000" stroke="#000" stroke-width="0.25" font-weight="normal" font-family="'Liberation Sans', sans-serif" >0</text>
<line x1="58.05" y1="759.4" x2="63.55" y2="759.4" stroke="#000" stroke-width="1.1" stroke-linecap="butt"/>
<text x="52.95" y="765.16" font-size="16" text-anchor="end" fill="#000" stroke="#000" stroke-width="0.25" font-weight="normal" font-family="'Liberation Sans', sans-serif" >5</text>
<line x1="58.05" y1="699.4" x2="63.55" y2="699.4" stroke="#000" stroke-width="1.1" stroke-linecap="butt"/>
<text x="52.95" y="705.16" font-size="16" text-anchor="end" fill="#000" stroke="#000" stroke-width="0.25" font-weight="normal" font-family="'Liberation Sans', sans-serif" >10</text>
<line x1="58.05" y1="639.4" x2="63.55" y2="639.4" stroke="#000" stroke-width="1.1" stroke-linecap="butt"/>
<text x="52.95" y="645.16" font-size="16" text-anchor="end" fill="#000" stroke="#000" stroke-width="0.25" font-weight="normal" font-family="'Liberation Sans', sans-serif" >15</text>
<line x1="288.4" y1="819.2" x2="293.9" y2="819.2" stroke="#000" stroke-width="1.1" stroke-linecap="butt"/>
<text x="0" y="0" font-size="16" text-anchor="start" stroke="#000" stroke-width="0.25" font-family="'Liberation Sans', sans-serif" transform="translate(303.3,823.2) rotate(-52)">0.00</text>
<line x1="288.4" y1="762.9" x2="293.9" y2="762.9" stroke="#000" stroke-width="1.1" stroke-linecap="butt"/>
<text x="0" y="0" font-size="16" text-anchor="start" stroke="#000" stroke-width="0.25" font-family="'Liberation Sans', sans-serif" transform="translate(303.3,766.9) rotate(-52)">0.05</text>
<line x1="288.4" y1="706.5" x2="293.9" y2="706.5" stroke="#000" stroke-width="1.1" stroke-linecap="butt"/>
<text x="0" y="0" font-size="16" text-anchor="start" stroke="#000" stroke-width="0.25" font-family="'Liberation Sans', sans-serif" transform="translate(303.3,710.5) rotate(-52)">0.10</text>
<line x1="288.4" y1="650.1" x2="293.9" y2="650.1" stroke="#000" stroke-width="1.1" stroke-linecap="butt"/>
<text x="0" y="0" font-size="16" text-anchor="start" stroke="#000" stroke-width="0.25" font-family="'Liberation Sans', sans-serif" transform="translate(303.3,654.1) rotate(-52)">0.15</text>
<text x="0" y="0" font-size="18" text-anchor="middle" fill="#b31212" stroke="#b31212" stroke-width="0.25" font-family="'Liberation Sans', sans-serif" transform="translate(338,726) rotate(-90)">Damaged ribosomes</text>
<line x1="76" y1="698.1" x2="94.2" y2="698.1" stroke="#ea6500" stroke-width="5.6" stroke-linecap="butt"/>
<line x1="76" y1="717.6" x2="94.2" y2="717.6" stroke="#a80000" stroke-width="5.6" stroke-linecap="butt"/>
<text x="99.2" y="703.5" font-size="16" text-anchor="start" fill="#000" stroke="#000" stroke-width="0.25" font-weight="normal" font-family="'Liberation Sans', sans-serif" >Tagged</text>
<text x="99.2" y="722.8" font-size="16" text-anchor="start" fill="#000" stroke="#000" stroke-width="0.25" font-weight="normal" font-family="'Liberation Sans', sans-serif" >Damaged</text>
<line x1="63.55" y1="819.1" x2="63.55" y2="824.6" stroke="#000" stroke-width="1.1" stroke-linecap="butt"/>
<text x="63.55" y="843.8" font-size="16" text-anchor="middle" fill="#000" stroke="#000" stroke-width="0.25" font-weight="normal" font-family="'Liberation Sans', sans-serif" >0.0</text>
<line x1="175.97" y1="819.1" x2="175.97" y2="824.6" stroke="#000" stroke-width="1.1" stroke-linecap="butt"/>
<text x="175.97" y="843.8" font-size="16" text-anchor="middle" fill="#000" stroke="#000" stroke-width="0.25" font-weight="normal" font-family="'Liberation Sans', sans-serif" >0.4</text>
<line x1="288.4" y1="819.1" x2="288.4" y2="824.6" stroke="#000" stroke-width="1.1" stroke-linecap="butt"/>
<text x="288.4" y="843.8" font-size="16" text-anchor="middle" fill="#000" stroke="#000" stroke-width="0.25" font-weight="normal" font-family="'Liberation Sans', sans-serif" >0.8</text>
<text x="176.2" y="867" font-size="18" text-anchor="middle" fill="#000" stroke="#000" stroke-width="0.25" font-weight="normal" font-family="'Liberation Sans', sans-serif" >Damage rate (min<tspan font-size="14.81" dx="0" dy="-4.57">−</tspan><tspan dx="1" dy="4.57">¹</tspan><tspan dx="1">)</tspan></text>
<text x="0" y="0" font-size="21.5" font-weight="bold" text-anchor="start" fill="#000" stroke="#000" stroke-width="0.25" font-family="'Liberation Sans', sans-serif" transform="translate(355.7,15.9) scale(1,1.04)">B</text>
<text x="0" y="0" font-size="17.95" font-weight="bold" text-anchor="middle" fill="#000" stroke="#000" stroke-width="0.25" font-family="'Liberation Sans', sans-serif" transform="translate(528.5,13.4) scale(1,1.04)">Parameter sensitivity</text>
<path d="M422.3,21 L635.9,21 L635.9,60.9 L540,60.9 L518.2,61.2 L513.4,65 L486.9,65.4 L483.1,68.8 L466,69.2 L460.3,72.6 L448,73 L443.2,76.4 L439.4,76.8 L434.7,80.6 L429,81.2 L425,84.5 L422.3,85 Z" fill="#a64ea6"/>
<path d="M422.3,97.3 L429,93.5 L438.5,92.9 L442.3,89.3 L455.5,88.8 L460.3,85.3 L483.1,85 L486.9,81.2 L541.4,80.6 L545,76.8 L635.9,76.8 L635.9,132.6 L628,132.6 L620,132.6 L540,132.8 L513.4,133.2 L508.7,136.6 L464.1,137 L459.3,140.4 L443.2,140.8 L438.5,145 L428,146 L422.3,146.5 Z" fill="#cf88e0"/>
<path d="M422.3,146.5 L438.5,145 L443.2,140.8 L459.3,140.4 L464.1,137 L508.7,136.6 L513.4,133.2 L540,132.8 L635.9,132.6 L635.9,172.5 L540,172.7 L530.5,173.1 L525.8,176.9 L450.8,176.9 L447,180.7 L422.3,180.7 Z" fill="#e7bce7"/>
<path d="M426,141.5 L438.5,140.8 L435,145.2 L422.3,146.5 Z" fill="#c774d6"/>
<path d="M446,137.6 L459.3,137.2 L455,140.5 L443.2,140.8 Z" fill="#c774d6"/>
<path d="M497,133.5 L513,133.2 L508.7,136.6 L493,136.7 Z" fill="#c774d6"/>
<path d="M630,129.5 L635.9,128.5 L635.9,132.6 L626,132.6 Z" fill="#c774d6"/>
<line x1="420.8" y1="20.4" x2="420.8" y2="189.7" stroke="#000" stroke-width="2.6" stroke-linecap="butt"/>
<line x1="419.5" y1="188.4" x2="637.8" y2="188.4" stroke="#000" stroke-width="2.6" stroke-linecap="butt"/>
<line x1="415.3" y1="155.9" x2="420.8" y2="155.9" stroke="#000" stroke-width="1.1" stroke-linecap="butt"/>
<text x="410.2" y="161.66" font-size="16" text-anchor="end" fill="#000" stroke="#000" stroke-width="0.25" font-weight="normal" font-family="'Liberation Sans', sans-serif" >0.01</text>
<line x1="415.3" y1="88.6" x2="420.8" y2="88.6" stroke="#000" stroke-width="1.1" stroke-linecap="butt"/>
<text x="410.2" y="94.36" font-size="16" text-anchor="end" fill="#000" stroke="#000" stroke-width="0.25" font-weight="normal" font-family="'Liberation Sans', sans-serif" >0.02</text>
<line x1="415.3" y1="21.3" x2="420.8" y2="21.3" stroke="#000" stroke-width="1.1" stroke-linecap="butt"/>
<text x="410.2" y="27.06" font-size="16" text-anchor="end" fill="#000" stroke="#000" stroke-width="0.25" font-weight="normal" font-family="'Liberation Sans', sans-serif" >0.03</text>
<line x1="420.8" y1="188.4" x2="420.8" y2="193.9" stroke="#000" stroke-width="1.1" stroke-linecap="butt"/>
<text x="420.8" y="213.4" font-size="16" text-anchor="middle" fill="#000" stroke="#000" stroke-width="0.25" font-weight="normal" font-family="'Liberation Sans', sans-serif" >1000</text>
<line x1="516.6" y1="188.4" x2="516.6" y2="193.9" stroke="#000" stroke-width="1.1" stroke-linecap="butt"/>
<text x="516.6" y="213.4" font-size="16" text-anchor="middle" fill="#000" stroke="#000" stroke-width="0.25" font-weight="normal" font-family="'Liberation Sans', sans-serif" >3000</text>
<line x1="612.2" y1="188.4" x2="612.2" y2="193.9" stroke="#000" stroke-width="1.1" stroke-linecap="butt"/>
<text x="612.2" y="213.4" font-size="16" text-anchor="middle" fill="#000" stroke="#000" stroke-width="0.25" font-weight="normal" font-family="'Liberation Sans', sans-serif" >5000</text>
<text x="528.5" y="237" font-size="18" text-anchor="middle" fill="#000" stroke="#000" stroke-width="0.25" font-weight="normal" font-family="'Liberation Sans', sans-serif" >ATP (μM)</text>
<text x="0" y="0" font-size="18" text-anchor="middle" fill="#000" stroke="#000" stroke-width="0.25" font-family="'Liberation Sans', sans-serif" transform="translate(369.9,105.3) rotate(-90)">λ (min<tspan font-size="14.81" dx="0" dy="-4.57">−</tspan><tspan dx="1" dy="4.57">¹</tspan><tspan dx="1">)</tspan></text>
<rect x="572.7" y="27.2" width="102.3" height="94.6" fill="#fff" stroke="#000" stroke-width="1.4"/>
<text x="578.1" y="45.9" font-size="15" font-weight="normal" font-style="italic" stroke="none" font-family="'Liberation Serif', serif" textLength="10.4" lengthAdjust="spacingAndGlyphs">ω</text>
<text x="589.2" y="49.4" font-size="9.8" font-weight="bold" font-style="normal" stroke="none" font-family="'Liberation Serif', serif" textLength="10.4" lengthAdjust="spacingAndGlyphs">ba</text>
<text x="607.2" y="46.2" font-size="17" font-weight="normal" font-style="normal" stroke="none" font-family="'Liberation Serif', serif" textLength="4.1" lengthAdjust="spacingAndGlyphs">(</text>
<text x="612" y="46.2" font-size="16.5" font-weight="bold" font-style="normal" stroke="none" font-family="'Liberation Serif', serif" textLength="31.5" lengthAdjust="spacingAndGlyphs">min</text>
<line x1="647" y1="37" x2="654.2" y2="37" stroke="#000" stroke-width="0.9" stroke-linecap="butt"/>
<text x="657.8" y="39.7" font-size="9.5" font-weight="normal" font-style="normal" stroke="none" font-family="'Liberation Serif', serif" textLength="4.3" lengthAdjust="spacingAndGlyphs">1</text>
<text x="663.5" y="46.2" font-size="17" font-weight="normal" font-style="normal" stroke="none" font-family="'Liberation Serif', serif" textLength="4.1" lengthAdjust="spacingAndGlyphs">)</text>
<rect x="587.4" y="59.4" width="18.4" height="17.9" fill="#dda0dd" />
<rect x="587.4" y="79.2" width="18.4" height="17.5" fill="#ba55d3" />
<rect x="587.4" y="98.8" width="18.4" height="17.9" fill="#800080" />
<text x="610.5" y="75.2" font-size="16" text-anchor="start" fill="#000" stroke="#000" stroke-width="0.25" font-weight="normal" font-family="'Liberation Sans', sans-serif" >5x10<tspan font-size="13.99" dx="0.5" dy="-4.75">−</tspan><tspan dx="0.8" dy="3.55">⁶</tspan><tspan dx="0" dy="1.2"></tspan></text>
<text x="610.5" y="94.8" font-size="16" text-anchor="start" fill="#000" stroke="#000" stroke-width="0.25" font-weight="normal" font-family="'Liberation Sans', sans-serif" >5x10<tspan font-size="13.99" dx="0.5" dy="-4.75">−</tspan><tspan dx="0.8" dy="3.55">⁵</tspan><tspan dx="0" dy="1.2"></tspan></text>
<text x="610.5" y="114.6" font-size="16" text-anchor="start" fill="#000" stroke="#000" stroke-width="0.25" font-weight="normal" font-family="'Liberation Sans', sans-serif" >5x10<tspan font-size="13.99" dx="0.5" dy="-4.75">−</tspan><tspan dx="0.8" dy="3.55">⁴</tspan><tspan dx="0" dy="1.2"></tspan></text>
<text x="0" y="0" font-size="21.5" font-weight="bold" text-anchor="start" fill="#000" stroke="#000" stroke-width="0.25" font-family="'Liberation Sans', sans-serif" transform="translate(365,275.8) scale(1,1.13)">C</text>
<line x1="467" y1="448.5" x2="636.2" y2="448.5" stroke="#dda0dd" stroke-width="5.2" stroke-linecap="butt"/>
<path d="M499.8,435.9 498.5,436.9 497.2,437.9 495.9,438.8 494.5,439.6 493.1,440.4 491.7,441.1 490.2,441.7 488.8,442.3 487.3,442.9 485.8,443.4 484.2,443.9 482.7,444.3 481.1,444.7 479.6,445.1 478.0,445.5 476.4,445.8 474.9,446.1 473.3,446.4 471.7,446.7 470.1,447.0 468.6,447.3 467.0,447.6" fill="none" stroke="#dda0dd" stroke-width="5.2" stroke-linecap="butt" stroke-linejoin="round" stroke-dasharray="16 17" stroke-dashoffset="16"/>
<path d="M421.5,449.0 421.7,447.5 421.8,446.0 422.0,444.5 422.1,443.0 422.3,441.5 422.4,440.0 422.6,438.5 422.7,437.0 422.8,435.5 422.9,434.0 423.1,432.4 423.2,430.9 423.3,429.4 423.4,427.9 423.5,426.3 423.6,424.8 423.7,423.3 423.8,421.8 423.9,420.3 424.0,418.7 424.1,417.2 424.3,415.7 424.4,414.2 424.5,412.7 424.6,411.2 424.7,409.7 424.8,408.2 425.0,406.7 425.1,405.3 425.2,403.8 425.4,402.3 425.5,400.9 425.7,399.4 425.8,397.9 426.0,396.4 426.1,394.9 426.2,393.3 426.4,391.8 426.5,390.1 426.6,388.5 426.7,386.8 426.9,385.2 427.1,383.6 427.5,382.1 427.9,380.7 428.4,379.5 429.1,378.4 429.9,377.4 430.8,376.7 431.8,376.2 433.0,375.8 434.2,375.7 435.5,375.9 436.9,376.2 438.3,376.6 439.7,377.1 441.2,377.7 442.6,378.3 444.1,378.9 445.5,379.6 447.0,380.3 448.4,381.0 449.8,381.7 451.2,382.3 452.6,383.0 454.0,383.7 455.3,384.4 456.7,385.1 458.0,385.8 459.4,386.5 460.7,387.2 462.0,387.9 463.3,388.6 464.7,389.3 466.0,390.0 467.3,390.7 468.6,391.5 469.8,392.2 471.1,393.0 472.4,393.7 473.7,394.5 475.0,395.2 476.3,396.0 477.5,396.8 478.8,397.6 480.1,398.4 481.4,399.2 482.7,400.0 483.9,400.8 485.2,401.7 486.5,402.5 487.8,403.4 489.1,404.3 490.3,405.2 491.6,406.1 492.8,407.0 494.0,408.0 495.2,409.0 496.3,410.0 497.5,411.0 498.5,412.1 499.6,413.2 500.6,414.3 501.6,415.4 502.5,416.6 503.4,417.8 504.2,419.0 504.9,420.3 505.5,421.6 505.9,423.0 506.2,424.3 506.3,425.7 506.1,427.1 505.7,428.6 505.1,430.0 504.2,431.4 503.2,432.8 502.1,434.0 501.0,435.0 499.8,435.9" fill="none" stroke="#dda0dd" stroke-width="5.2" stroke-linecap="butt" stroke-linejoin="round"/>
<line x1="482" y1="448.5" x2="636.2" y2="448.5" stroke="#ba55d3" stroke-width="5.2" stroke-linecap="butt"/>
<path d="M564.1,417.8 562.9,418.8 561.7,419.7 560.5,420.7 559.3,421.6 558.1,422.5 556.8,423.4 555.5,424.2 554.3,425.0 553.0,425.8 551.7,426.6 550.4,427.4 549.1,428.2 547.7,428.9 546.4,429.6 545.1,430.3 543.7,431.0 542.3,431.7 541.0,432.3 539.6,433.0 538.2,433.6 536.8,434.2 535.4,434.8 534.0,435.3 532.5,435.9 531.1,436.4 529.7,437.0 528.2,437.5 526.8,438.0 525.3,438.4 523.9,438.9 522.4,439.4 520.9,439.8 519.5,440.2 518.0,440.7 516.5,441.1 515.0,441.4 513.5,441.8 512.0,442.2 510.5,442.6 509.0,442.9 507.5,443.2 506.0,443.6 504.5,443.9 503.0,444.2 501.5,444.5 500.0,444.8 498.5,445.0 497.0,445.3 495.5,445.6 494.0,445.8 492.5,446.1 491.0,446.3 489.5,446.5 488.0,446.8 486.5,447.0 485.0,447.2 483.5,447.4 482.0,447.6" fill="none" stroke="#ba55d3" stroke-width="5.2" stroke-linecap="butt" stroke-linejoin="round" stroke-dasharray="16 17" stroke-dashoffset="16"/>
<path d="M421.5,449.0 421.5,447.5 421.6,445.9 421.6,444.4 421.6,442.9 421.7,441.4 421.7,439.9 421.8,438.3 421.8,436.8 421.9,435.3 421.9,433.8 422.0,432.3 422.0,430.8 422.1,429.3 422.1,427.7 422.2,426.2 422.2,424.7 422.3,423.2 422.4,421.7 422.4,420.2 422.5,418.7 422.6,417.2 422.6,415.7 422.7,414.2 422.8,412.7 422.8,411.2 422.9,409.7 423.0,408.2 423.0,406.7 423.1,405.2 423.2,403.7 423.3,402.2 423.3,400.7 423.4,399.2 423.5,397.7 423.6,396.1 423.7,394.6 423.8,393.1 423.8,391.6 423.9,390.1 424.0,388.6 424.1,387.1 424.2,385.6 424.3,384.1 424.4,382.6 424.4,381.1 424.5,379.5 424.6,378.0 424.7,376.5 424.8,375.0 424.9,373.5 425.0,372.0 425.1,370.4 425.2,368.9 425.3,367.4 425.4,365.9 425.5,364.3 425.6,362.8 425.7,361.3 425.8,359.8 425.9,358.2 426.0,356.7 426.2,355.2 426.3,353.7 426.5,352.1 426.7,350.6 426.9,349.1 427.1,347.6 427.3,346.1 427.5,344.6 427.7,343.1 428.0,341.6 428.3,340.1 428.6,338.6 428.9,337.1 429.3,335.7 429.6,334.2 430.0,332.7 430.4,331.3 430.9,329.8 431.3,328.4 431.8,327.0 432.4,325.6 433.0,324.2 433.6,323.0 434.4,321.9 435.2,320.9 436.1,320.0 437.2,319.3 438.3,318.8 439.5,318.5 440.8,318.2 442.2,318.1 443.6,318.2 445.1,318.4 446.6,318.6 448.1,319.0 449.6,319.4 451.1,319.9 452.7,320.5 454.2,321.0 455.7,321.6 457.2,322.1 458.7,322.7 460.1,323.2 461.6,323.7 463.0,324.2 464.4,324.7 465.9,325.2 467.3,325.7 468.7,326.2 470.2,326.7 471.6,327.3 473.0,327.8 474.5,328.3 475.9,328.8 477.3,329.4 478.7,329.9 480.2,330.4 481.6,331.0 483.0,331.5 484.4,332.1 485.8,332.6 487.2,333.2 488.6,333.7 490.0,334.3 491.4,334.9 492.8,335.5 494.2,336.0 495.6,336.6 497.0,337.2 498.4,337.8 499.8,338.4 501.1,339.0 502.5,339.7 503.9,340.3 505.3,340.9 506.6,341.6 508.0,342.2 509.3,342.9 510.7,343.6 512.0,344.2 513.4,344.9 514.7,345.6 516.0,346.3 517.4,347.0 518.7,347.7 520.0,348.5 521.3,349.2 522.6,350.0 523.9,350.7 525.2,351.5 526.5,352.3 527.8,353.1 529.1,353.9 530.3,354.7 531.6,355.5 532.9,356.3 534.1,357.2 535.4,358.0 536.6,358.9 537.8,359.8 539.1,360.7 540.3,361.6 541.5,362.5 542.7,363.4 543.9,364.4 545.1,365.3 546.2,366.3 547.4,367.3 548.5,368.3 549.6,369.3 550.8,370.4 551.9,371.4 553.0,372.5 554.0,373.6 555.1,374.7 556.1,375.8 557.1,376.9 558.1,378.1 559.1,379.2 560.1,380.4 561.0,381.6 562.0,382.9 562.9,384.1 563.7,385.4 564.6,386.6 565.4,387.9 566.2,389.3 567.0,390.6 567.7,391.9 568.3,393.3 568.9,394.6 569.4,396.0 569.9,397.4 570.2,398.8 570.5,400.2 570.7,401.6 570.8,402.9 570.8,404.3 570.7,405.7 570.5,407.1 570.2,408.5 569.7,409.8 569.1,411.2 568.4,412.5 567.6,413.9 566.6,415.2 565.4,416.5 564.1,417.8" fill="none" stroke="#ba55d3" stroke-width="5.2" stroke-linecap="butt" stroke-linejoin="round"/>
<line x1="487" y1="448.5" x2="636.2" y2="448.5" stroke="#800080" stroke-width="5.2" stroke-linecap="butt"/>
<path d="M581.7,412.0 580.7,413.2 579.6,414.3 578.6,415.4 577.5,416.4 576.4,417.5 575.3,418.5 574.1,419.5 573.0,420.4 571.8,421.4 570.6,422.3 569.4,423.2 568.1,424.0 566.9,424.9 565.6,425.7 564.3,426.5 563.0,427.2 561.7,428.0 560.4,428.7 559.1,429.4 557.7,430.1 556.4,430.8 555.0,431.5 553.6,432.1 552.2,432.7 550.8,433.3 549.4,433.9 548.0,434.5 546.6,435.0 545.1,435.6 543.7,436.1 542.2,436.6 540.8,437.1 539.3,437.6 537.9,438.1 536.4,438.5 534.9,439.0 533.5,439.4 532.0,439.9 530.5,440.3 529.1,440.7 527.6,441.1 526.1,441.5 524.6,441.9 523.1,442.2 521.6,442.6 520.2,442.9 518.7,443.3 517.2,443.6 515.7,443.9 514.2,444.2 512.7,444.5 511.2,444.8 509.7,445.0 508.2,445.3 506.7,445.5 505.2,445.8 503.7,446.0 502.2,446.2 500.7,446.4 499.1,446.6 497.6,446.8 496.1,446.9 494.6,447.1 493.1,447.2 491.6,447.4 490.0,447.5 488.5,447.6 487.0,447.7" fill="none" stroke="#800080" stroke-width="5.2" stroke-linecap="butt" stroke-linejoin="round" stroke-dasharray="16 17" stroke-dashoffset="16"/>
<path d="M421.5,449.0 421.6,447.5 421.7,446.0 421.8,444.5 421.8,443.0 421.9,441.5 422.0,440.0 422.1,438.5 422.1,437.0 422.2,435.5 422.2,434.0 422.3,432.5 422.3,431.0 422.4,429.5 422.4,427.9 422.5,426.4 422.5,424.9 422.6,423.4 422.6,421.9 422.6,420.4 422.7,418.9 422.7,417.4 422.7,415.9 422.8,414.3 422.8,412.8 422.8,411.3 422.9,409.8 422.9,408.3 422.9,406.8 423.0,405.3 423.0,403.7 423.0,402.2 423.0,400.7 423.1,399.2 423.1,397.7 423.1,396.2 423.2,394.7 423.2,393.2 423.2,391.6 423.3,390.1 423.3,388.6 423.3,387.1 423.4,385.6 423.4,384.1 423.5,382.6 423.5,381.1 423.5,379.6 423.6,378.1 423.6,376.6 423.7,375.1 423.8,373.5 423.8,372.0 423.9,370.5 423.9,369.0 424.0,367.5 424.1,366.0 424.1,364.5 424.2,363.0 424.3,361.6 424.4,360.1 424.5,358.6 424.6,357.1 424.7,355.6 424.8,354.1 424.9,352.6 425.0,351.1 425.1,349.6 425.3,348.1 425.4,346.6 425.5,345.1 425.7,343.6 425.8,342.1 426.0,340.6 426.2,339.1 426.3,337.6 426.5,336.1 426.7,334.6 426.9,333.0 427.1,331.5 427.4,330.0 427.6,328.5 427.9,326.9 428.1,325.4 428.4,323.8 428.6,322.3 428.9,320.7 429.2,319.2 429.6,317.6 429.9,316.1 430.3,314.6 430.7,313.1 431.2,311.7 431.8,310.4 432.4,309.1 433.2,308.0 434.0,306.9 434.9,305.9 436.0,305.1 437.1,304.4 438.3,303.8 439.6,303.4 440.9,303.0 442.3,302.8 443.7,302.7 445.1,302.7 446.4,302.8 447.9,303.0 449.3,303.3 450.7,303.7 452.1,304.1 453.5,304.6 455.0,305.1 456.4,305.7 457.8,306.2 459.3,306.8 460.7,307.4 462.1,308.0 463.6,308.6 465.0,309.2 466.4,309.8 467.9,310.4 469.3,311.0 470.7,311.5 472.2,312.1 473.6,312.7 475.0,313.3 476.5,313.8 477.9,314.4 479.3,315.0 480.7,315.5 482.2,316.1 483.6,316.7 485.0,317.2 486.4,317.8 487.9,318.3 489.3,318.9 490.7,319.5 492.1,320.0 493.5,320.6 494.9,321.2 496.3,321.8 497.7,322.3 499.1,322.9 500.5,323.5 501.9,324.1 503.3,324.6 504.7,325.2 506.1,325.8 507.5,326.4 508.8,327.0 510.2,327.6 511.6,328.2 512.9,328.8 514.3,329.5 515.7,330.1 517.0,330.7 518.4,331.4 519.7,332.0 521.1,332.7 522.4,333.3 523.8,334.0 525.1,334.6 526.4,335.3 527.7,336.0 529.1,336.7 530.4,337.4 531.7,338.1 533.0,338.8 534.3,339.6 535.6,340.3 536.9,341.0 538.2,341.8 539.4,342.6 540.7,343.3 542.0,344.1 543.2,344.9 544.5,345.7 545.7,346.5 547.0,347.4 548.2,348.2 549.5,349.1 550.7,349.9 551.9,350.8 553.1,351.7 554.3,352.6 555.5,353.5 556.7,354.5 557.9,355.4 559.0,356.4 560.2,357.3 561.4,358.3 562.5,359.3 563.7,360.3 564.8,361.4 565.9,362.4 567.0,363.4 568.1,364.5 569.2,365.6 570.3,366.7 571.4,367.8 572.5,368.9 573.5,370.1 574.6,371.3 575.6,372.4 576.6,373.6 577.6,374.8 578.6,376.1 579.6,377.3 580.5,378.5 581.4,379.8 582.3,381.1 583.1,382.4 583.8,383.7 584.5,385.0 585.2,386.3 585.8,387.6 586.3,388.9 586.8,390.3 587.2,391.6 587.5,393.0 587.8,394.3 587.9,395.7 588.0,397.0 588.0,398.4 587.9,399.8 587.6,401.1 587.3,402.5 586.9,403.9 586.3,405.2 585.6,406.6 584.9,407.9 583.9,409.3 582.9,410.7 581.7,412.0" fill="none" stroke="#800080" stroke-width="5.2" stroke-linecap="butt" stroke-linejoin="round"/>
<line x1="494" y1="448.5" x2="636.2" y2="448.5" stroke="#3f1440" stroke-width="5.2" stroke-linecap="butt"/>
<path d="M598.3,407.1 597.3,408.3 596.2,409.4 595.2,410.6 594.1,411.6 593.0,412.7 591.9,413.8 590.7,414.8 589.6,415.8 588.4,416.8 587.3,417.8 586.1,418.7 584.9,419.6 583.7,420.5 582.4,421.4 581.2,422.2 579.9,423.1 578.7,423.9 577.4,424.7 576.1,425.5 574.8,426.2 573.5,427.0 572.1,427.7 570.8,428.4 569.4,429.1 568.1,429.7 566.7,430.4 565.3,431.0 563.9,431.6 562.5,432.2 561.1,432.8 559.7,433.4 558.3,434.0 556.9,434.5 555.4,435.0 554.0,435.5 552.5,436.0 551.1,436.5 549.6,437.0 548.2,437.4 546.7,437.9 545.2,438.3 543.7,438.7 542.2,439.1 540.7,439.5 539.2,439.9 537.7,440.3 536.2,440.7 534.7,441.0 533.2,441.4 531.7,441.7 530.2,442.0 528.7,442.3 527.2,442.6 525.6,442.9 524.1,443.2 522.6,443.5 521.1,443.8 519.6,444.0 518.0,444.3 516.5,444.6 515.0,444.8 513.5,445.1 512.0,445.3 510.5,445.5 508.9,445.7 507.4,446.0 505.9,446.2 504.4,446.4 502.9,446.6 501.4,446.8 499.9,447.0 498.4,447.2 497.0,447.4 495.5,447.6 494.0,447.8" fill="none" stroke="#3f1440" stroke-width="5.2" stroke-linecap="butt" stroke-linejoin="round" stroke-dasharray="16 17" stroke-dashoffset="16"/>
<path d="M421.5,449.0 421.5,447.5 421.6,446.0 421.6,444.5 421.6,443.0 421.7,441.5 421.7,440.0 421.7,438.5 421.8,437.0 421.8,435.5 421.8,433.9 421.9,432.4 421.9,430.9 421.9,429.4 422.0,427.9 422.0,426.4 422.0,424.9 422.1,423.4 422.1,421.9 422.1,420.3 422.2,418.8 422.2,417.3 422.2,415.8 422.3,414.3 422.3,412.8 422.3,411.3 422.4,409.8 422.4,408.2 422.4,406.7 422.5,405.2 422.5,403.7 422.5,402.2 422.6,400.7 422.6,399.2 422.7,397.7 422.7,396.1 422.7,394.6 422.8,393.1 422.8,391.6 422.9,390.1 422.9,388.6 422.9,387.1 423.0,385.6 423.0,384.0 423.1,382.5 423.1,381.0 423.2,379.5 423.2,378.0 423.3,376.5 423.3,375.0 423.3,373.5 423.4,372.0 423.4,370.5 423.5,369.0 423.6,367.5 423.6,365.9 423.7,364.4 423.7,362.9 423.8,361.4 423.8,359.9 423.9,358.4 423.9,356.9 424.0,355.4 424.1,353.9 424.1,352.4 424.2,350.9 424.3,349.4 424.3,347.9 424.4,346.4 424.5,344.9 424.6,343.4 424.7,342.0 424.7,340.5 424.8,339.0 424.9,337.5 425.0,335.9 425.2,334.4 425.3,332.9 425.4,331.4 425.5,329.9 425.7,328.4 425.8,326.9 426.0,325.4 426.2,323.9 426.3,322.4 426.5,320.8 426.7,319.3 426.9,317.8 427.1,316.3 427.4,314.7 427.6,313.2 427.9,311.6 428.1,310.1 428.4,308.6 428.7,307.0 429.0,305.5 429.4,303.9 429.7,302.4 430.2,301.0 430.7,299.6 431.2,298.2 431.9,296.9 432.6,295.7 433.4,294.6 434.3,293.5 435.3,292.6 436.4,291.8 437.6,291.1 438.8,290.5 440.1,290.0 441.5,289.6 442.8,289.3 444.2,289.1 445.6,289.1 447.0,289.1 448.4,289.2 449.8,289.5 451.2,289.8 452.6,290.1 454.0,290.5 455.4,291.0 456.8,291.5 458.2,292.1 459.6,292.7 461.0,293.3 462.5,293.9 463.9,294.6 465.3,295.2 466.7,295.8 468.1,296.4 469.6,297.0 471.0,297.7 472.4,298.3 473.8,298.9 475.3,299.4 476.7,300.0 478.1,300.6 479.5,301.2 481.0,301.8 482.4,302.4 483.8,302.9 485.2,303.5 486.7,304.1 488.1,304.6 489.5,305.2 490.9,305.8 492.3,306.3 493.8,306.9 495.2,307.4 496.6,308.0 498.0,308.6 499.4,309.1 500.8,309.7 502.3,310.3 503.7,310.8 505.1,311.4 506.5,312.0 507.9,312.5 509.3,313.1 510.7,313.7 512.1,314.3 513.5,314.8 514.8,315.4 516.2,316.0 517.6,316.6 519.0,317.2 520.4,317.8 521.7,318.4 523.1,319.0 524.5,319.6 525.8,320.3 527.2,320.9 528.5,321.5 529.9,322.2 531.2,322.8 532.6,323.5 533.9,324.2 535.2,324.8 536.5,325.5 537.9,326.2 539.2,326.9 540.5,327.6 541.8,328.3 543.1,329.1 544.4,329.8 545.7,330.6 546.9,331.3 548.2,332.1 549.5,332.9 550.8,333.7 552.0,334.5 553.3,335.3 554.5,336.1 555.7,336.9 557.0,337.8 558.2,338.7 559.4,339.5 560.6,340.4 561.8,341.3 563.0,342.2 564.2,343.1 565.4,344.1 566.6,345.0 567.8,346.0 568.9,346.9 570.1,347.9 571.2,348.9 572.4,349.9 573.5,350.9 574.7,351.9 575.8,352.9 576.9,354.0 578.1,355.0 579.2,356.1 580.3,357.2 581.4,358.3 582.5,359.4 583.6,360.5 584.7,361.6 585.8,362.7 586.8,363.9 587.9,365.0 589.0,366.2 590.0,367.3 591.0,368.5 592.1,369.7 593.0,370.9 594.0,372.1 594.9,373.3 595.8,374.6 596.7,375.8 597.5,377.1 598.3,378.3 599.1,379.6 599.7,380.9 600.4,382.2 600.9,383.5 601.4,384.8 601.9,386.1 602.3,387.5 602.6,388.8 602.8,390.2 602.9,391.5 603.0,392.9 603.0,394.3 602.9,395.7 602.7,397.1 602.4,398.5 602.0,399.9 601.4,401.3 600.8,402.8 600.1,404.2 599.3,405.7 598.3,407.1" fill="none" stroke="#3f1440" stroke-width="5.2" stroke-linecap="butt" stroke-linejoin="round"/>
<line x1="420.7" y1="278.7" x2="420.7" y2="450.5" stroke="#000" stroke-width="2.6" stroke-linecap="butt"/>
<line x1="419.4" y1="449.2" x2="637.2" y2="449.2" stroke="#000" stroke-width="2.6" stroke-linecap="butt"/>
<line x1="415.2" y1="449.2" x2="420.7" y2="449.2" stroke="#000" stroke-width="1.1" stroke-linecap="butt"/>
<text x="410.1" y="454.96" font-size="16" text-anchor="end" fill="#000" stroke="#000" stroke-width="0.25" font-weight="normal" font-family="'Liberation Sans', sans-serif" >0</text>
<line x1="415.2" y1="370.1" x2="420.7" y2="370.1" stroke="#000" stroke-width="1.1" stroke-linecap="butt"/>
<text x="410.1" y="375.86" font-size="16" text-anchor="end" fill="#000" stroke="#000" stroke-width="0.25" font-weight="normal" font-family="'Liberation Sans', sans-serif" >2</text>
<line x1="415.2" y1="290.9" x2="420.7" y2="290.9" stroke="#000" stroke-width="1.1" stroke-linecap="butt"/>
<text x="410.1" y="296.66" font-size="16" text-anchor="end" fill="#000" stroke="#000" stroke-width="0.25" font-weight="normal" font-family="'Liberation Sans', sans-serif" >4</text>
<text x="0" y="0" font-size="18" text-anchor="middle" fill="#000" stroke="#000" stroke-width="0.25" font-family="'Liberation Sans', sans-serif" transform="translate(379,364.3) rotate(-90)">RtcB (μM)</text>
<text x="591.5" y="266.4" font-size="16.5" font-weight="bold" font-style="normal" stroke="none" font-family="'Liberation Serif', serif" textLength="38.1" lengthAdjust="spacingAndGlyphs">ATP</text>
<text x="637.2" y="266.4" font-size="17" font-weight="normal" font-style="normal" stroke="none" font-family="'Liberation Serif', serif" textLength="4.9" lengthAdjust="spacingAndGlyphs">(</text>
<text x="642.8" y="266.4" font-size="16.5" font-weight="normal" font-style="italic" stroke="none" font-family="'Liberation Serif', serif" textLength="9" lengthAdjust="spacingAndGlyphs">μ</text>
<text x="652.1" y="266.4" font-size="16.5" font-weight="normal" font-style="normal" stroke="none" font-family="'Liberation Serif', serif" textLength="17.7" lengthAdjust="spacingAndGlyphs">M</text>
<text x="670.9" y="266.4" font-size="17" font-weight="normal" font-style="normal" stroke="none" font-family="'Liberation Serif', serif" textLength="4.9" lengthAdjust="spacingAndGlyphs">)</text>
<line x1="605" y1="287.2" x2="623.2" y2="287.2" stroke="#dda0dd" stroke-width="5.6" stroke-linecap="butt"/>
<text x="628.1" y="293.1" font-size="16" text-anchor="start" fill="#000" stroke="#000" stroke-width="0.25" font-weight="normal" font-family="'Liberation Sans', sans-serif" >1000</text>
<line x1="605" y1="306.6" x2="623.2" y2="306.6" stroke="#ba55d3" stroke-width="5.6" stroke-linecap="butt"/>
<text x="628.1" y="312.5" font-size="16" text-anchor="start" fill="#000" stroke="#000" stroke-width="0.25" font-weight="normal" font-family="'Liberation Sans', sans-serif" >2500</text>
<line x1="605" y1="325.9" x2="623.2" y2="325.9" stroke="#800080" stroke-width="5.6" stroke-linecap="butt"/>
<text x="628.1" y="331.8" font-size="16" text-anchor="start" fill="#000" stroke="#000" stroke-width="0.25" font-weight="normal" font-family="'Liberation Sans', sans-serif" >3500</text>
<line x1="605" y1="345.6" x2="623.2" y2="345.6" stroke="#3f1440" stroke-width="5.6" stroke-linecap="butt"/>
<text x="628.1" y="351.5" font-size="16" text-anchor="start" fill="#000" stroke="#000" stroke-width="0.25" font-weight="normal" font-family="'Liberation Sans', sans-serif" >5000</text>
<path d="M421.6,633.5 421.6,632.0 421.7,630.5 421.7,628.9 421.7,627.4 421.8,625.9 421.8,624.4 421.9,622.9 422.0,621.4 422.0,619.9 422.1,618.3 422.1,616.8 422.2,615.3 422.3,613.8 422.4,612.3 422.5,610.8 422.6,609.3 422.6,607.8 422.7,606.3 422.8,604.8 422.9,603.3 423.0,601.8 423.2,600.3 423.3,598.7 423.4,597.2 423.5,595.7 423.6,594.2 423.8,592.7 423.9,591.2 424.0,589.7 424.1,588.2 424.3,586.7 424.4,585.2 424.6,583.7 424.7,582.2 424.9,580.7 425.0,579.2 425.2,577.7 425.3,576.2 425.5,574.7 425.6,573.2 425.8,571.7 426.0,570.2 426.1,568.7 426.3,567.2 426.5,565.7 426.7,564.2 426.8,562.7 427.0,561.2 427.2,559.7 427.4,558.2 427.6,556.7 427.8,555.2 427.9,553.7 428.1,552.2 428.3,550.7 428.5,549.2 428.7,547.7 428.9,546.2 429.1,544.7 429.3,543.2 429.6,541.7 429.8,540.2 430.0,538.7 430.2,537.2 430.5,535.7 430.7,534.2 431.0,532.7 431.3,531.3 431.6,529.8 431.9,528.3 432.2,526.8 432.5,525.3 432.8,523.8 433.2,522.3 433.5,520.9 433.9,519.4 434.3,517.9 434.7,516.4 435.1,515.0 435.6,513.5 436.0,512.0 436.5,510.6 437.0,509.1 437.5,507.7 438.1,506.2 438.6,504.8 439.2,503.4 439.8,501.9 440.5,500.5 441.1,499.1 441.8,497.8 442.5,496.4 443.2,495.1 444.0,493.7 444.8,492.5 445.6,491.2 446.4,490.0 447.3,488.8 448.2,487.6 449.1,486.4 450.0,485.3 451.0,484.3 452.0,483.2 453.0,482.3 454.1,481.3 455.2,480.4 456.3,479.6 457.5,478.8 458.7,478.0 459.9,477.3 461.2,476.7 462.5,476.1 463.8,475.6 465.2,475.1 466.6,474.6 468.0,474.3 469.4,473.9 470.9,473.6 472.4,473.4 473.9,473.2 475.4,473.0 476.9,472.9 478.5,472.8 480.0,472.7 481.6,472.7 483.1,472.7 484.7,472.7 486.2,472.7 487.8,472.8 489.4,472.8 490.9,472.9 492.5,473.0 494.0,473.2 495.6,473.3 497.1,473.4 498.7,473.6 500.2,473.7 501.7,473.9 503.3,474.1 504.8,474.2 506.3,474.4 507.9,474.6 509.4,474.8 510.9,474.9 512.4,475.1 513.9,475.3 515.4,475.5 516.9,475.6 518.4,475.8 519.9,476.0 521.4,476.1 522.9,476.3 524.4,476.5 525.9,476.7 527.4,476.8 528.9,477.0 530.4,477.2 531.9,477.4 533.4,477.5 534.9,477.7 536.3,477.9 537.8,478.1 539.3,478.2 540.8,478.4 542.3,478.6 543.8,478.8 545.3,478.9 546.7,479.1 548.2,479.3 549.7,479.5 551.2,479.7 552.7,479.8 554.2,480.0 555.7,480.2 557.2,480.4 558.7,480.6 560.2,480.7 561.7,480.9 563.2,481.1 564.7,481.3 566.2,481.5 567.7,481.7 569.2,481.8 570.7,482.0 572.2,482.2 573.7,482.4 575.2,482.6 576.7,482.8 578.2,482.9 579.7,483.1 581.2,483.3 582.7,483.5 584.2,483.7 585.8,483.9 587.3,484.0 588.8,484.2 590.3,484.4 591.8,484.6 593.3,484.8 594.8,484.9 596.3,485.1 597.8,485.3 599.3,485.5 600.8,485.7 602.4,485.8 603.9,486.0 605.4,486.2 606.9,486.4 608.4,486.5 609.9,486.7 611.4,486.9 612.9,487.0 614.4,487.2 615.9,487.4 617.4,487.5 618.9,487.7 620.4,487.9 621.9,488.0 623.4,488.2 624.9,488.3 626.4,488.5 627.9,488.6 629.4,488.8 630.9,489.0 632.4,489.1 633.9,489.3 635.4,489.4" fill="none" stroke="#bfbfbf" stroke-width="5.2" stroke-linecap="butt" stroke-linejoin="round"/>
<line x1="470" y1="633.4" x2="636.2" y2="633.4" stroke="#ba55d3" stroke-width="5.2" stroke-linecap="butt"/>
<path d="M567.3,628.6 565.8,628.7 564.2,628.8 562.7,628.9 561.1,629.0 559.6,629.1 558.0,629.2 556.5,629.3 555.0,629.4 553.4,629.5 551.9,629.6 550.3,629.7 548.8,629.8 547.2,629.9 545.7,630.0 544.2,630.1 542.6,630.1 541.1,630.2 539.5,630.3 538.0,630.4 536.4,630.5 534.9,630.6 533.3,630.6 531.8,630.7 530.3,630.8 528.7,630.9 527.2,631.0 525.6,631.0 524.1,631.1 522.5,631.2 521.0,631.3 519.4,631.3 517.9,631.4 516.4,631.5 514.8,631.5 513.3,631.6 511.7,631.7 510.2,631.7 508.6,631.8 507.1,631.9 505.5,631.9 504.0,632.0 502.5,632.0 500.9,632.1 499.4,632.1 497.8,632.2 496.3,632.3 494.7,632.3 493.2,632.4 491.6,632.4 490.1,632.5 488.5,632.5 487.0,632.6 485.5,632.6 483.9,632.6 482.4,632.7 480.8,632.7 479.3,632.8 477.7,632.8 476.2,632.9 474.6,632.9 473.1,632.9 471.5,633.0 470.0,633.0" fill="none" stroke="#ba55d3" stroke-width="5.2" stroke-linecap="butt" stroke-linejoin="round" stroke-dasharray="16 17" stroke-dashoffset="16"/>
<path d="M421.6,633.5 421.8,632.0 422.0,630.6 422.1,629.1 422.3,627.6 422.4,626.1 422.6,624.5 422.7,623.0 422.9,621.5 423.1,620.0 423.3,618.5 423.5,616.9 423.8,615.4 424.1,613.9 424.5,612.5 424.9,611.0 425.3,609.5 425.8,608.1 426.4,606.7 427.1,605.3 427.8,604.0 428.6,602.7 429.4,601.4 430.3,600.2 431.3,599.1 432.4,598.1 433.5,597.1 434.7,596.3 436.0,595.6 437.3,595.0 438.6,594.6 440.0,594.3 441.5,594.2 443.0,594.1 444.5,594.2 446.0,594.2 447.6,594.3 449.1,594.4 450.6,594.6 452.2,594.7 453.7,594.8 455.2,594.9 456.8,595.1 458.3,595.2 459.8,595.4 461.3,595.5 462.9,595.7 464.4,595.8 465.9,596.0 467.4,596.1 468.9,596.3 470.4,596.5 471.9,596.6 473.4,596.8 474.9,597.0 476.4,597.2 477.9,597.4 479.4,597.6 480.9,597.8 482.4,598.0 483.9,598.2 485.4,598.4 486.9,598.6 488.4,598.8 489.9,599.0 491.4,599.2 492.9,599.5 494.4,599.7 495.9,599.9 497.4,600.2 498.8,600.4 500.3,600.6 501.8,600.9 503.3,601.1 504.8,601.4 506.3,601.6 507.7,601.9 509.2,602.1 510.7,602.4 512.2,602.7 513.7,602.9 515.2,603.2 516.6,603.4 518.1,603.7 519.6,604.0 521.1,604.2 522.6,604.5 524.1,604.7 525.6,605.0 527.1,605.3 528.6,605.5 530.1,605.8 531.6,606.0 533.1,606.3 534.5,606.5 536.1,606.8 537.6,607.0 539.1,607.2 540.6,607.5 542.1,607.7 543.6,607.9 545.1,608.1 546.6,608.4 548.1,608.6 549.7,608.8 551.2,609.0 552.7,609.2 554.2,609.5 555.7,609.7 557.2,610.0 558.7,610.3 560.2,610.6 561.7,611.0 563.1,611.3 564.6,611.8 566.0,612.2 567.4,612.7 568.8,613.3 570.2,613.9 571.5,614.6 572.8,615.3 574.1,616.1 575.4,617.0 576.5,617.9 577.5,618.9 578.3,619.8 578.8,620.9 579.1,621.9 579.1,622.9 578.8,624.0 578.0,625.0 576.9,626.0 575.5,627.0 574.0,627.7 572.3,628.4 570.5,628.7 568.9,628.8 567.3,628.6" fill="none" stroke="#ba55d3" stroke-width="5.2" stroke-linecap="butt" stroke-linejoin="round"/>
<line x1="440" y1="633.4" x2="636.2" y2="633.4" stroke="#800080" stroke-width="5.2" stroke-linecap="butt"/>
<path d="M482.0,632.0 480.5,632.1 478.9,632.1 477.4,632.2 475.8,632.2 474.3,632.3 472.8,632.3 471.2,632.3 469.7,632.4 468.1,632.4 466.6,632.5 465.1,632.5 463.5,632.5 462.0,632.6 460.4,632.6 458.9,632.6 457.4,632.7 455.8,632.7 454.3,632.7 452.7,632.8 451.2,632.8 449.7,632.8 448.1,632.8 446.6,632.9 445.0,632.9 443.5,632.9 441.9,633.0 440.4,633.0 438.9,633.0 437.3,633.0 435.8,633.1 434.2,633.1 432.7,633.1 431.2,633.2 429.6,633.2 428.1,633.2 426.5,633.3 425.0,633.3" fill="none" stroke="#800080" stroke-width="5.2" stroke-linecap="butt" stroke-linejoin="round" stroke-dasharray="16 17" stroke-dashoffset="16"/>
<path d="M421.6,633.5 421.4,631.9 421.4,630.3 421.5,628.7 421.9,627.2 422.3,625.7 423.0,624.3 423.8,623.1 424.8,622.1 426.0,621.3 427.3,620.8 428.7,620.5 430.2,620.4 431.7,620.4 433.3,620.4 434.9,620.5 436.5,620.7 438.1,620.8 439.7,621.0 441.3,621.1 442.9,621.3 444.4,621.5 446.0,621.7 447.5,621.9 449.0,622.1 450.5,622.3 452.0,622.5 453.5,622.7 455.0,622.9 456.4,623.1 457.9,623.3 459.4,623.5 460.8,623.7 462.3,623.9 463.8,624.1 465.4,624.3 467.0,624.5 468.6,624.7 470.2,624.9 471.9,625.1 473.6,625.4 475.3,625.6 477.0,625.9 478.6,626.3 480.0,626.7 481.2,627.3 482.2,628.0 482.9,628.8 483.3,629.7 483.0,630.8 482.0,632.0" fill="none" stroke="#800080" stroke-width="5.2" stroke-linecap="butt" stroke-linejoin="round"/>
<line x1="428" y1="633.4" x2="636.2" y2="633.4" stroke="#3f1440" stroke-width="5.2" stroke-linecap="butt"/>
<path d="M464.0,632.5 462.4,632.5 460.8,632.6 459.2,632.6 457.6,632.7 456.0,632.7 454.4,632.8 452.8,632.8 451.2,632.9 449.6,632.9 448.0,633.0 446.4,633.0 444.8,633.0 443.2,633.1 441.6,633.1 440.0,633.2 438.4,633.2 436.8,633.3 435.2,633.3 433.6,633.3 432.0,633.4 430.4,633.4 428.8,633.5 427.2,633.5 425.6,633.6 424.0,633.6" fill="none" stroke="#3f1440" stroke-width="5.2" stroke-linecap="butt" stroke-linejoin="round" stroke-dasharray="16 17" stroke-dashoffset="16"/>
<path d="M421.6,633.5 421.7,631.6 422.1,630.0 422.7,628.7 423.5,627.6 424.5,626.8 425.7,626.1 427.0,625.7 428.4,625.4 429.9,625.3 431.5,625.2 433.2,625.3 434.9,625.5 436.6,625.7 438.3,626.0 440.0,626.2 441.6,626.5 443.2,626.7 444.7,626.9 446.1,627.1 447.6,627.3 449.0,627.4 450.4,627.5 451.9,627.7 453.4,627.9 455.0,628.0 456.8,628.2 458.5,628.5 460.3,628.8 462.0,629.1 463.5,629.6 464.7,630.2 465.5,630.9 465.5,631.7 464.0,632.5" fill="none" stroke="#3f1440" stroke-width="5.2" stroke-linecap="butt" stroke-linejoin="round"/>
<line x1="420.7" y1="464.1" x2="420.7" y2="635.6" stroke="#000" stroke-width="2.6" stroke-linecap="butt"/>
<line x1="419.4" y1="634.3" x2="636.7" y2="634.3" stroke="#000" stroke-width="2.6" stroke-linecap="butt"/>
<line x1="415.2" y1="634.5" x2="420.7" y2="634.5" stroke="#000" stroke-width="1.1" stroke-linecap="butt"/>
<text x="410.1" y="640.26" font-size="16" text-anchor="end" fill="#000" stroke="#000" stroke-width="0.25" font-weight="normal" font-family="'Liberation Sans', sans-serif" >0</text>
<line x1="415.2" y1="589.6" x2="420.7" y2="589.6" stroke="#000" stroke-width="1.1" stroke-linecap="butt"/>
<text x="410.1" y="595.36" font-size="16" text-anchor="end" fill="#000" stroke="#000" stroke-width="0.25" font-weight="normal" font-family="'Liberation Sans', sans-serif" >4</text>
<line x1="415.2" y1="544.7" x2="420.7" y2="544.7" stroke="#000" stroke-width="1.1" stroke-linecap="butt"/>
<text x="410.1" y="550.46" font-size="16" text-anchor="end" fill="#000" stroke="#000" stroke-width="0.25" font-weight="normal" font-family="'Liberation Sans', sans-serif" >8</text>
<line x1="415.2" y1="500.3" x2="420.7" y2="500.3" stroke="#000" stroke-width="1.1" stroke-linecap="butt"/>
<text x="410.1" y="506.06" font-size="16" text-anchor="end" fill="#000" stroke="#000" stroke-width="0.25" font-weight="normal" font-family="'Liberation Sans', sans-serif" >12</text>
<text x="0" y="0" font-size="18" text-anchor="middle" fill="#000" stroke="#000" stroke-width="0.25" font-family="'Liberation Sans', sans-serif" transform="translate(379,549.3) rotate(-90)">RtcB (μM)</text>
<text x="580.9" y="513.1" font-size="16.5" font-weight="normal" font-style="italic" stroke="none" font-family="'Liberation Serif', serif" textLength="7.9" lengthAdjust="spacingAndGlyphs">λ</text>
<text x="597.3" y="513.1" font-size="17" font-weight="normal" font-style="normal" stroke="none" font-family="'Liberation Serif', serif" textLength="4.3" lengthAdjust="spacingAndGlyphs">(</text>
<text x="603.3" y="513.1" font-size="16.5" font-weight="bold" font-style="normal" stroke="none" font-family="'Liberation Serif', serif" textLength="30.5" lengthAdjust="spacingAndGlyphs">min</text>
<line x1="637" y1="503.7" x2="644.2" y2="503.7" stroke="#000" stroke-width="0.9" stroke-linecap="butt"/>
<text x="647.6" y="506.6" font-size="9.5" font-weight="normal" font-style="normal" stroke="none" font-family="'Liberation Serif', serif" textLength="4.3" lengthAdjust="spacingAndGlyphs">1</text>
<text x="653.6" y="513.1" font-size="17" font-weight="normal" font-style="normal" stroke="none" font-family="'Liberation Serif', serif" textLength="4.3" lengthAdjust="spacingAndGlyphs">)</text>
<line x1="588.4" y1="533.9" x2="606.5" y2="533.9" stroke="#bfbfbf" stroke-width="5.6" stroke-linecap="butt"/>
<text x="611" y="539.8" font-size="16" text-anchor="start" fill="#000" stroke="#000" stroke-width="0.25" font-weight="normal" font-family="'Liberation Sans', sans-serif" >0.01</text>
<line x1="588.4" y1="553.5" x2="606.5" y2="553.5" stroke="#ba55d3" stroke-width="5.6" stroke-linecap="butt"/>
<text x="611" y="559.4" font-size="16" text-anchor="start" fill="#000" stroke="#000" stroke-width="0.25" font-weight="normal" font-family="'Liberation Sans', sans-serif" >0.014</text>
<line x1="588.4" y1="572.8" x2="606.5" y2="572.8" stroke="#800080" stroke-width="5.6" stroke-linecap="butt"/>
<text x="611" y="578.7" font-size="16" text-anchor="start" fill="#000" stroke="#000" stroke-width="0.25" font-weight="normal" font-family="'Liberation Sans', sans-serif" >0.018</text>
<line x1="588.4" y1="592.1" x2="606.5" y2="592.1" stroke="#3f1440" stroke-width="5.6" stroke-linecap="butt"/>
<text x="611" y="598" font-size="16" text-anchor="start" fill="#000" stroke="#000" stroke-width="0.25" font-weight="normal" font-family="'Liberation Sans', sans-serif" >0.02</text>
<line x1="466" y1="817.9" x2="636.2" y2="817.9" stroke="#dda0dd" stroke-width="5.2" stroke-linecap="butt"/>
<path d="M475.5,815 C474.58,815.3 471.58,816.37 470,816.8 C468.42,817.23 466.67,817.47 466,817.6" fill="none" stroke="#dda0dd" stroke-width="5.2" stroke-linecap="butt" stroke-linejoin="round" stroke-dasharray="16 17" stroke-dashoffset="16"/>
<path d="M421.5,818.0 421.6,816.4 421.7,814.8 421.8,813.3 422.0,811.8 422.2,810.3 422.4,808.9 422.7,807.4 422.9,805.9 423.1,804.5 423.3,803.0 423.5,801.5 423.6,799.9 423.7,798.3 423.8,796.8 423.9,795.1 424.0,793.5 424.1,791.9 424.2,790.3 424.4,788.8 424.7,787.2 425.0,785.7 425.5,784.3 426.0,782.9 426.7,781.7 427.5,780.6 428.4,779.7 429.6,779.1 430.8,778.7 432.1,778.4 433.6,778.4 435.0,778.5 436.5,778.7 438.0,779.0 439.5,779.5 441.0,780.0 442.5,780.6 444.0,781.2 445.4,781.9 446.9,782.6 448.4,783.3 449.8,783.9 451.3,784.6 452.7,785.2 454.1,785.7 455.5,786.3 456.9,786.8 458.3,787.4 459.6,787.9 461.0,788.4 462.4,788.9 463.8,789.4 465.2,790.0 466.6,790.5 468.0,791.1 469.4,791.7 470.9,792.3 472.3,792.9 473.8,793.6 475.3,794.3 476.7,795.1 478.2,795.9 479.6,796.7 480.9,797.6 482.1,798.6 483.1,799.7 484.1,800.8 484.8,801.9 485.4,803.2 485.7,804.5 485.8,805.9 485.7,807.3 485.4,808.7 484.8,810.0 484.1,811.3 483.1,812.4 482.0,813.4 480.6,814.2 479.1,814.8 477.4,815.0 475.5,815.0" fill="none" stroke="#dda0dd" stroke-width="5.2" stroke-linecap="butt" stroke-linejoin="round"/>
<line x1="486" y1="817.9" x2="636.2" y2="817.9" stroke="#ba55d3" stroke-width="5.2" stroke-linecap="butt"/>
<path d="M540.3,803.0 538.9,803.7 537.4,804.3 536.0,804.9 534.6,805.5 533.1,806.1 531.6,806.7 530.2,807.2 528.7,807.7 527.2,808.2 525.7,808.6 524.2,809.1 522.7,809.5 521.2,809.9 519.7,810.3 518.2,810.7 516.7,811.1 515.2,811.5 513.6,811.8 512.1,812.1 510.6,812.5 509.0,812.8 507.5,813.1 506.0,813.4 504.4,813.7 502.9,814.0 501.4,814.3 499.8,814.6 498.3,814.9 496.7,815.2 495.2,815.5 493.7,815.8 492.1,816.1 490.6,816.4 489.1,816.7 487.5,817.0 486.0,817.3" fill="none" stroke="#ba55d3" stroke-width="5.2" stroke-linecap="butt" stroke-linejoin="round" stroke-dasharray="16 17" stroke-dashoffset="16"/>
<path d="M421.5,818.0 421.6,816.5 421.7,814.9 421.8,813.4 421.9,811.9 422.0,810.3 422.1,808.8 422.2,807.3 422.3,805.8 422.5,804.3 422.6,802.8 422.7,801.3 422.9,799.8 423.0,798.3 423.2,796.8 423.3,795.3 423.5,793.8 423.6,792.4 423.8,790.9 423.9,789.4 424.0,787.9 424.2,786.4 424.3,784.9 424.5,783.4 424.6,781.9 424.7,780.4 424.9,778.9 425.0,777.4 425.1,775.9 425.2,774.4 425.3,772.9 425.5,771.3 425.6,769.8 425.6,768.3 425.7,766.7 425.8,765.1 425.9,763.6 425.9,762.0 426.0,760.4 426.1,758.9 426.2,757.3 426.3,755.8 426.5,754.2 426.7,752.7 426.9,751.2 427.2,749.8 427.6,748.4 428.0,747.0 428.6,745.7 429.2,744.4 429.9,743.2 430.8,742.2 431.7,741.3 432.8,740.5 434.0,739.8 435.2,739.2 436.5,738.8 437.9,738.5 439.4,738.3 440.8,738.2 442.4,738.3 443.9,738.4 445.4,738.6 447.0,738.9 448.6,739.2 450.1,739.6 451.7,740.1 453.2,740.6 454.7,741.0 456.2,741.5 457.6,742.1 459.1,742.6 460.5,743.1 461.9,743.6 463.3,744.2 464.7,744.7 466.1,745.2 467.5,745.8 468.9,746.3 470.3,746.8 471.7,747.3 473.1,747.8 474.5,748.3 475.9,748.8 477.4,749.3 478.8,749.8 480.2,750.3 481.6,750.8 483.1,751.3 484.5,751.8 485.9,752.3 487.3,752.8 488.8,753.3 490.2,753.8 491.6,754.3 493.0,754.8 494.5,755.3 495.9,755.9 497.3,756.4 498.7,756.9 500.1,757.5 501.6,758.0 503.0,758.5 504.4,759.1 505.8,759.7 507.2,760.2 508.6,760.8 510.0,761.4 511.4,762.0 512.8,762.6 514.2,763.2 515.5,763.9 516.9,764.5 518.3,765.2 519.6,765.8 521.0,766.5 522.4,767.2 523.7,767.9 525.0,768.6 526.3,769.4 527.6,770.2 528.9,771.0 530.2,771.8 531.5,772.6 532.7,773.5 533.9,774.4 535.2,775.3 536.3,776.2 537.5,777.2 538.7,778.2 539.8,779.2 540.9,780.3 542.0,781.4 543.0,782.6 544.0,783.7 545.0,784.9 545.8,786.2 546.6,787.4 547.2,788.7 547.7,790.0 548.0,791.3 548.1,792.6 548.1,794.0 547.8,795.3 547.3,796.6 546.6,797.9 545.8,799.1 544.7,800.2 543.4,801.3 541.9,802.2 540.3,803.0" fill="none" stroke="#ba55d3" stroke-width="5.2" stroke-linecap="butt" stroke-linejoin="round"/>
<line x1="505" y1="817.9" x2="636.2" y2="817.9" stroke="#800080" stroke-width="5.2" stroke-linecap="butt"/>
<path d="M604.2,790.7 602.9,791.6 601.6,792.5 600.3,793.3 599.0,794.1 597.7,794.9 596.4,795.7 595.1,796.5 593.7,797.2 592.4,797.9 591.0,798.6 589.7,799.3 588.3,800.0 586.9,800.6 585.5,801.2 584.1,801.8 582.7,802.4 581.3,803.0 579.9,803.5 578.5,804.1 577.1,804.6 575.6,805.1 574.2,805.6 572.8,806.1 571.3,806.5 569.9,807.0 568.4,807.4 566.9,807.8 565.5,808.2 564.0,808.6 562.5,809.0 561.0,809.4 559.5,809.7 558.0,810.1 556.5,810.4 555.1,810.7 553.5,811.0 552.0,811.3 550.5,811.6 549.0,811.9 547.5,812.2 546.0,812.4 544.5,812.7 543.0,812.9 541.5,813.2 539.9,813.4 538.4,813.6 536.9,813.8 535.4,814.0 533.8,814.3 532.3,814.5 530.8,814.7 529.3,814.8 527.7,815.0 526.2,815.2 524.7,815.4 523.2,815.6 521.6,815.7 520.1,815.9 518.6,816.1 517.1,816.3 515.6,816.4 514.0,816.6 512.5,816.8 511.0,816.9 509.5,817.1 508.0,817.3 506.5,817.4 505.0,817.6" fill="none" stroke="#800080" stroke-width="5.2" stroke-linecap="butt" stroke-linejoin="round" stroke-dasharray="16 17" stroke-dashoffset="16"/>
<path d="M421.5,818.0 421.6,816.5 421.6,815.0 421.7,813.5 421.7,812.0 421.8,810.5 421.9,809.0 421.9,807.4 422.0,805.9 422.1,804.4 422.2,802.9 422.2,801.4 422.3,799.9 422.4,798.4 422.5,796.9 422.6,795.4 422.7,793.9 422.8,792.3 422.9,790.8 423.0,789.3 423.2,787.8 423.3,786.3 423.4,784.8 423.5,783.3 423.6,781.8 423.7,780.3 423.9,778.7 424.0,777.2 424.1,775.7 424.2,774.2 424.4,772.7 424.5,771.2 424.6,769.7 424.8,768.2 424.9,766.7 425.1,765.2 425.2,763.7 425.3,762.2 425.5,760.7 425.6,759.1 425.8,757.6 425.9,756.1 426.0,754.6 426.2,753.1 426.3,751.6 426.5,750.1 426.6,748.6 426.8,747.1 426.9,745.6 427.1,744.2 427.2,742.7 427.3,741.2 427.5,739.7 427.6,738.2 427.8,736.7 427.9,735.2 428.1,733.7 428.2,732.2 428.3,730.7 428.5,729.2 428.7,727.7 428.8,726.2 429.0,724.7 429.2,723.1 429.3,721.6 429.5,720.1 429.7,718.5 430.0,716.9 430.2,715.3 430.4,713.7 430.7,712.1 431.0,710.5 431.3,708.9 431.7,707.4 432.2,706.0 432.9,704.7 433.6,703.5 434.5,702.6 435.6,701.7 436.7,701.0 438.0,700.5 439.3,700.0 440.6,699.6 442.0,699.3 443.5,699.1 444.9,699.0 446.4,698.9 447.8,698.8 449.3,698.8 450.7,698.9 452.2,699.0 453.6,699.1 455.1,699.3 456.5,699.5 458.0,699.7 459.4,700.0 460.9,700.3 462.4,700.6 463.8,701.0 465.3,701.4 466.7,701.8 468.2,702.2 469.7,702.6 471.1,703.1 472.6,703.5 474.1,704.0 475.5,704.5 477.0,705.0 478.5,705.4 479.9,705.9 481.4,706.4 482.9,706.9 484.3,707.3 485.8,707.8 487.3,708.3 488.7,708.7 490.2,709.2 491.7,709.6 493.1,710.1 494.6,710.5 496.0,711.0 497.5,711.4 499.0,711.9 500.4,712.3 501.9,712.8 503.3,713.2 504.8,713.6 506.2,714.1 507.7,714.5 509.1,715.0 510.6,715.4 512.0,715.9 513.4,716.3 514.9,716.8 516.3,717.3 517.7,717.7 519.2,718.2 520.6,718.7 522.0,719.1 523.5,719.6 524.9,720.1 526.3,720.6 527.7,721.1 529.1,721.6 530.5,722.1 531.9,722.6 533.3,723.1 534.7,723.7 536.1,724.2 537.5,724.7 538.9,725.3 540.3,725.8 541.7,726.4 543.1,727.0 544.4,727.6 545.8,728.2 547.2,728.8 548.5,729.4 549.9,730.1 551.3,730.7 552.6,731.4 554.0,732.0 555.3,732.7 556.6,733.4 558.0,734.1 559.3,734.8 560.6,735.5 561.9,736.3 563.3,737.0 564.6,737.8 565.9,738.6 567.2,739.4 568.5,740.2 569.8,741.0 571.1,741.8 572.3,742.7 573.6,743.5 574.9,744.3 576.2,745.2 577.4,746.1 578.7,746.9 579.9,747.8 581.2,748.7 582.4,749.6 583.7,750.5 584.9,751.4 586.1,752.3 587.4,753.2 588.6,754.1 589.8,755.0 591.0,755.9 592.2,756.9 593.5,757.8 594.7,758.7 595.9,759.7 597.0,760.6 598.2,761.5 599.3,762.5 600.5,763.5 601.5,764.5 602.6,765.6 603.6,766.7 604.5,767.8 605.4,769.0 606.2,770.2 606.9,771.5 607.6,772.8 608.2,774.2 608.6,775.7 609.0,777.1 609.3,778.6 609.4,780.1 609.3,781.6 609.2,783.0 608.8,784.5 608.3,785.9 607.6,787.2 606.7,788.4 605.5,789.6 604.2,790.7" fill="none" stroke="#800080" stroke-width="5.2" stroke-linecap="butt" stroke-linejoin="round"/>
<path d="M421.5,818.0 421.6,816.5 421.8,815.0 421.9,813.5 422.0,812.0 422.1,810.6 422.2,809.1 422.3,807.6 422.4,806.1 422.5,804.6 422.6,803.1 422.7,801.6 422.8,800.1 422.9,798.6 423.0,797.1 423.1,795.6 423.2,794.0 423.2,792.5 423.3,791.0 423.4,789.5 423.5,788.0 423.6,786.5 423.7,785.0 423.7,783.5 423.8,782.0 423.9,780.4 424.0,778.9 424.0,777.4 424.1,775.9 424.2,774.4 424.3,772.9 424.3,771.4 424.4,769.8 424.5,768.3 424.6,766.8 424.6,765.3 424.7,763.8 424.8,762.3 424.9,760.7 424.9,759.2 425.0,757.7 425.1,756.2 425.2,754.7 425.3,753.2 425.3,751.7 425.4,750.2 425.5,748.7 425.6,747.2 425.7,745.6 425.8,744.1 425.9,742.6 426.0,741.1 426.1,739.6 426.2,738.1 426.3,736.6 426.4,735.1 426.5,733.6 426.6,732.2 426.7,730.7 426.8,729.2 426.9,727.7 427.1,726.2 427.2,724.7 427.3,723.2 427.4,721.8 427.6,720.3 427.7,718.8 427.9,717.3 428.0,715.8 428.2,714.4 428.3,712.9 428.5,711.4 428.6,709.9 428.8,708.4 429.0,706.9 429.2,705.4 429.4,703.9 429.6,702.4 429.8,700.9 430.0,699.4 430.2,697.9 430.5,696.4 430.7,694.9 430.9,693.4 431.2,691.8 431.5,690.3 431.7,688.7 432.0,687.2 432.3,685.6 432.6,684.1 432.9,682.5 433.2,680.9 433.6,679.4 433.9,677.8 434.3,676.2 434.7,674.7 435.2,673.2 435.6,671.8 436.2,670.4 436.8,669.0 437.4,667.7 438.1,666.5 438.8,665.4 439.7,664.3 440.6,663.4 441.6,662.5 442.6,661.8 443.8,661.1 445.0,660.6 446.3,660.2 447.6,659.8 449.0,659.5 450.4,659.3 451.9,659.2 453.4,659.2 454.9,659.2 456.4,659.2 458.0,659.3 459.5,659.4 461.0,659.6 462.6,659.8 464.1,660.0 465.6,660.2 467.1,660.5 468.6,660.8 470.1,661.1 471.6,661.4 473.1,661.8 474.5,662.1 476.0,662.5 477.5,662.9 478.9,663.3 480.4,663.7 481.8,664.2 483.3,664.6 484.7,665.1 486.2,665.5 487.6,666.0 489.1,666.5 490.5,666.9 492.0,667.4 493.4,667.9 494.8,668.4 496.3,668.8 497.7,669.3 499.2,669.7 500.6,670.2 502.1,670.6 503.5,671.1 505.0,671.5 506.4,671.9 507.9,672.3 509.3,672.7 510.8,673.1 512.2,673.5 513.7,673.9 515.2,674.2 516.6,674.6 518.1,675.0 519.5,675.3 521.0,675.7 522.5,676.1 523.9,676.4 525.4,676.8 526.9,677.1 528.3,677.5 529.8,677.9 531.2,678.2 532.7,678.6 534.2,679.0 535.6,679.4 537.1,679.8 538.5,680.2 540.0,680.6 541.4,681.0 542.9,681.4 544.3,681.8 545.7,682.3 547.2,682.7 548.6,683.2 550.0,683.6 551.5,684.1 552.9,684.6 554.3,685.1 555.7,685.6 557.1,686.1 558.6,686.6 560.0,687.1 561.4,687.7 562.8,688.2 564.2,688.7 565.6,689.3 567.0,689.9 568.4,690.4 569.8,691.0 571.2,691.6 572.6,692.1 574.0,692.7 575.4,693.3 576.8,693.9 578.2,694.5 579.5,695.1 580.9,695.7 582.3,696.4 583.7,697.0 585.1,697.6 586.4,698.2 587.8,698.9 589.2,699.5 590.6,700.2 591.9,700.8 593.3,701.5 594.7,702.1 596.0,702.8 597.4,703.4 598.7,704.1 600.1,704.7 601.5,705.4 602.8,706.1 604.2,706.7 605.5,707.4 606.9,708.1 608.2,708.7 609.6,709.4 611.0,710.1 612.3,710.8 613.7,711.4 615.0,712.1 616.4,712.8 617.7,713.5 619.0,714.1 620.4,714.8 621.7,715.5 623.1,716.2 624.4,716.8 625.8,717.5 627.1,718.2 628.5,718.8 629.8,719.5" fill="none" stroke="#bfbfbf" stroke-width="5.2" stroke-linecap="butt" stroke-linejoin="round"/>
<line x1="420.7" y1="649.2" x2="420.7" y2="820.6" stroke="#000" stroke-width="2.6" stroke-linecap="butt"/>
<line x1="419.4" y1="819.3" x2="636.7" y2="819.3" stroke="#000" stroke-width="2.6" stroke-linecap="butt"/>
<line x1="415.2" y1="819.5" x2="420.7" y2="819.5" stroke="#000" stroke-width="1.1" stroke-linecap="butt"/>
<text x="410.1" y="825.26" font-size="16" text-anchor="end" fill="#000" stroke="#000" stroke-width="0.25" font-weight="normal" font-family="'Liberation Sans', sans-serif" >0.0</text>
<line x1="415.2" y1="777.1" x2="420.7" y2="777.1" stroke="#000" stroke-width="1.1" stroke-linecap="butt"/>
<text x="410.1" y="782.86" font-size="16" text-anchor="end" fill="#000" stroke="#000" stroke-width="0.25" font-weight="normal" font-family="'Liberation Sans', sans-serif" >1.5</text>
<line x1="415.2" y1="734.6" x2="420.7" y2="734.6" stroke="#000" stroke-width="1.1" stroke-linecap="butt"/>
<text x="410.1" y="740.36" font-size="16" text-anchor="end" fill="#000" stroke="#000" stroke-width="0.25" font-weight="normal" font-family="'Liberation Sans', sans-serif" >3.0</text>
<line x1="415.2" y1="692.2" x2="420.7" y2="692.2" stroke="#000" stroke-width="1.1" stroke-linecap="butt"/>
<text x="410.1" y="697.96" font-size="16" text-anchor="end" fill="#000" stroke="#000" stroke-width="0.25" font-weight="normal" font-family="'Liberation Sans', sans-serif" >4.5</text>
<text x="0" y="0" font-size="18" text-anchor="middle" fill="#000" stroke="#000" stroke-width="0.25" font-family="'Liberation Sans', sans-serif" transform="translate(379,734.8) rotate(-90)">RtcB (μM)</text>
<text x="594.9" y="659" font-size="15" font-weight="normal" font-style="italic" stroke="none" font-family="'Liberation Serif', serif" textLength="10.4" lengthAdjust="spacingAndGlyphs">ω</text>
<text x="606" y="662.5" font-size="9.8" font-weight="bold" font-style="normal" stroke="none" font-family="'Liberation Serif', serif" textLength="10.4" lengthAdjust="spacingAndGlyphs">ba</text>
<text x="624" y="659.3" font-size="17" font-weight="normal" font-style="normal" stroke="none" font-family="'Liberation Serif', serif" textLength="4.1" lengthAdjust="spacingAndGlyphs">(</text>
<text x="628.8" y="659.3" font-size="16.5" font-weight="bold" font-style="normal" stroke="none" font-family="'Liberation Serif', serif" textLength="31.5" lengthAdjust="spacingAndGlyphs">min</text>
<line x1="663.8" y1="650.1" x2="671" y2="650.1" stroke="#000" stroke-width="0.9" stroke-linecap="butt"/>
<text x="674.6" y="652.8" font-size="9.5" font-weight="normal" font-style="normal" stroke="none" font-family="'Liberation Serif', serif" textLength="4.3" lengthAdjust="spacingAndGlyphs">1</text>
<text x="680.3" y="659.3" font-size="17" font-weight="normal" font-style="normal" stroke="none" font-family="'Liberation Serif', serif" textLength="4.1" lengthAdjust="spacingAndGlyphs">)</text>
<line x1="604.7" y1="681.9" x2="622.3" y2="681.9" stroke="#dda0dd" stroke-width="5.6" stroke-linecap="butt"/>
<text x="627.3" y="687.8" font-size="16" text-anchor="start" fill="#000" stroke="#000" stroke-width="0.25" font-weight="normal" font-family="'Liberation Sans', sans-serif" >2x10<tspan font-size="13.99" dx="0.5" dy="-4.75">−</tspan><tspan dx="0.8" dy="3.55">⁵</tspan><tspan dx="0" dy="1.2"></tspan></text>
<line x1="604.7" y1="700.6" x2="622.3" y2="700.6" stroke="#ba55d3" stroke-width="5.6" stroke-linecap="butt"/>
<text x="627.3" y="706.5" font-size="16" text-anchor="start" fill="#000" stroke="#000" stroke-width="0.25" font-weight="normal" font-family="'Liberation Sans', sans-serif" >4x10<tspan font-size="13.99" dx="0.5" dy="-4.75">−</tspan><tspan dx="0.8" dy="3.55">⁵</tspan><tspan dx="0" dy="1.2"></tspan></text>
<line x1="604.7" y1="720.3" x2="622.3" y2="720.3" stroke="#800080" stroke-width="5.6" stroke-linecap="butt"/>
<text x="627.3" y="726.2" font-size="16" text-anchor="start" fill="#000" stroke="#000" stroke-width="0.25" font-weight="normal" font-family="'Liberation Sans', sans-serif" >6x10<tspan font-size="13.99" dx="0.5" dy="-4.75">−</tspan><tspan dx="0.8" dy="3.55">⁵</tspan><tspan dx="0" dy="1.2"></tspan></text>
<line x1="604.7" y1="740" x2="622.3" y2="740" stroke="#bfbfbf" stroke-width="5.6" stroke-linecap="butt"/>
<text x="627.3" y="745.9" font-size="16" text-anchor="start" fill="#000" stroke="#000" stroke-width="0.25" font-weight="normal" font-family="'Liberation Sans', sans-serif" >8x10<tspan font-size="13.99" dx="0.5" dy="-4.75">−</tspan><tspan dx="0.8" dy="3.55">⁵</tspan><tspan dx="0" dy="1.2"></tspan></text>
<line x1="420.7" y1="819.3" x2="420.7" y2="824.8" stroke="#000" stroke-width="1.1" stroke-linecap="butt"/>
<text x="420.7" y="843.8" font-size="16" text-anchor="middle" fill="#000" stroke="#000" stroke-width="0.25" font-weight="normal" font-family="'Liberation Sans', sans-serif" >0.0</text>
<line x1="528.45" y1="819.3" x2="528.45" y2="824.8" stroke="#000" stroke-width="1.1" stroke-linecap="butt"/>
<text x="528.45" y="843.8" font-size="16" text-anchor="middle" fill="#000" stroke="#000" stroke-width="0.25" font-weight="normal" font-family="'Liberation Sans', sans-serif" >0.4</text>
<line x1="636.2" y1="819.3" x2="636.2" y2="824.8" stroke="#000" stroke-width="1.1" stroke-linecap="butt"/>
<text x="636.2" y="843.8" font-size="16" text-anchor="middle" fill="#000" stroke="#000" stroke-width="0.25" font-weight="normal" font-family="'Liberation Sans', sans-serif" >0.8</text>
<text x="528.8" y="867" font-size="18" text-anchor="middle" fill="#000" stroke="#000" stroke-width="0.25" font-weight="normal" font-family="'Liberation Sans', sans-serif" >Damage rate (min<tspan font-size="14.81" dx="0" dy="-4.57">−</tspan><tspan dx="1" dy="4.57">¹</tspan><tspan dx="1">)</tspan></text>
</svg></body></html>
